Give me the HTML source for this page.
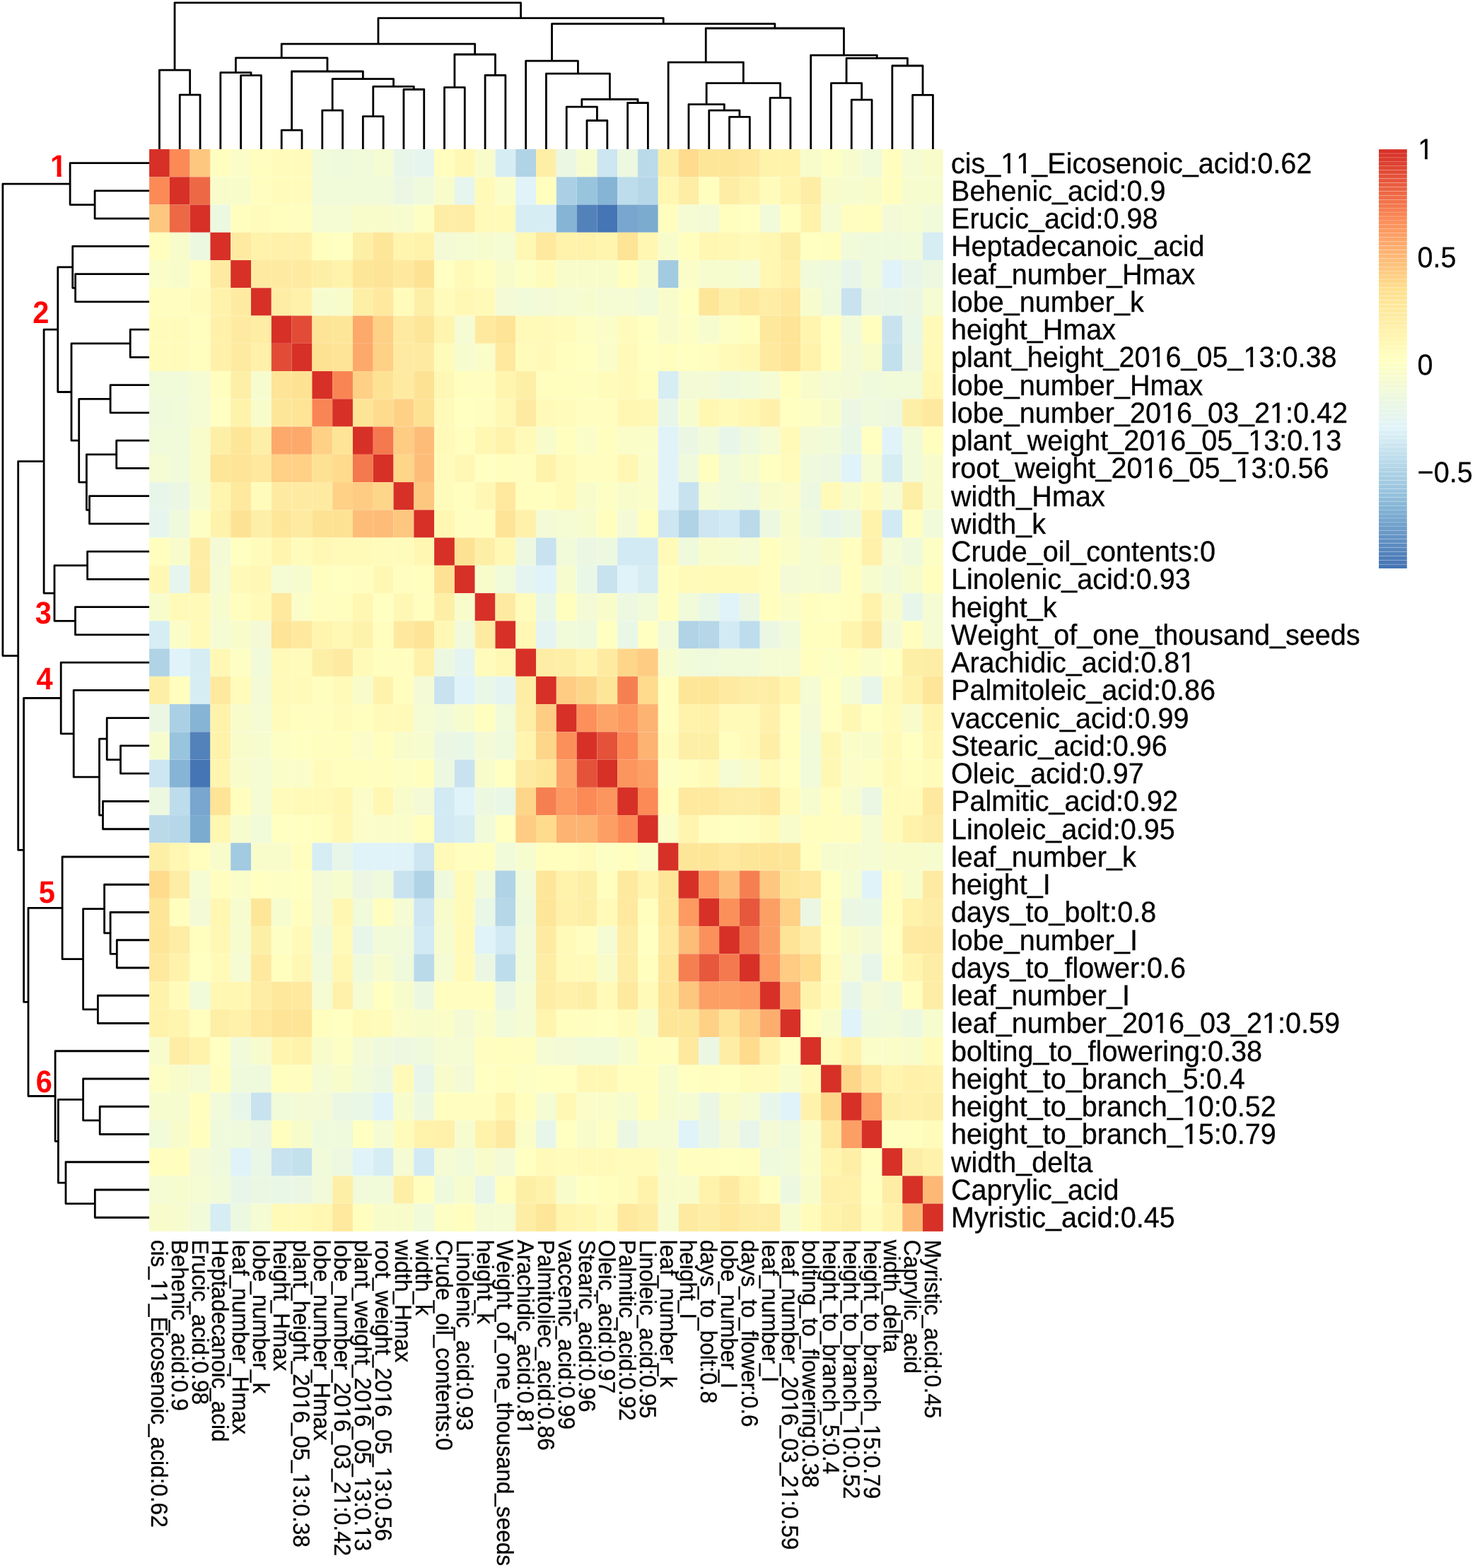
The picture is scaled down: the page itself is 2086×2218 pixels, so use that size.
<!DOCTYPE html>
<html lang="en"><head><meta charset="utf-8"><title>Clustered correlation heatmap</title>
<style>html,body{margin:0;padding:0;background:#fff}svg{display:block}text{font-family:"Liberation Sans",Arial,Helvetica,sans-serif;fill:#000;stroke:#000;stroke-width:0.3px;font-kerning:none;text-rendering:geometricPrecision}.rl{font-size:39.55px}.cl{font-size:31.55px}.lg{font-size:39.55px}.k text{font-size:41.6px;font-weight:bold;fill:#ff0000;stroke:none}.d{fill:none;stroke:#000;stroke-width:2.8;stroke-linejoin:round;stroke-linecap:butt}</style></head><body>
<svg width="2086" height="2218" viewBox="0 0 2086 2218">
<rect width="2086" height="2218" fill="#fff"/>
<g>
<rect x="211.07" y="211.07" width="28.79" height="39.25" fill="#d73027"/>
<rect x="239.86" y="211.07" width="28.79" height="39.25" fill="#fb8a57"/>
<rect x="268.65" y="211.07" width="28.79" height="39.25" fill="#fdc77f"/>
<rect x="297.43" y="211.07" width="28.79" height="39.25" fill="#fffebe"/>
<rect x="326.22" y="211.07" width="28.79" height="39.25" fill="#fafdc8"/>
<rect x="355.01" y="211.07" width="28.79" height="39.25" fill="#fffebe"/>
<rect x="383.80" y="211.07" width="28.79" height="39.25" fill="#fffcbb"/>
<rect x="412.59" y="211.07" width="28.79" height="39.25" fill="#fffcbb"/>
<rect x="441.37" y="211.07" width="28.79" height="39.25" fill="#f1fad9"/>
<rect x="470.16" y="211.07" width="28.79" height="39.25" fill="#eff9dc"/>
<rect x="498.95" y="211.07" width="28.79" height="39.25" fill="#f1fad9"/>
<rect x="527.74" y="211.07" width="28.79" height="39.25" fill="#f5fbd2"/>
<rect x="556.53" y="211.07" width="28.79" height="39.25" fill="#e8f6ea"/>
<rect x="585.31" y="211.07" width="28.79" height="39.25" fill="#e6f5ee"/>
<rect x="614.10" y="211.07" width="28.79" height="39.25" fill="#fffebe"/>
<rect x="642.89" y="211.07" width="28.79" height="39.25" fill="#fff8b5"/>
<rect x="671.68" y="211.07" width="28.79" height="39.25" fill="#f8fccb"/>
<rect x="700.47" y="211.07" width="28.79" height="39.25" fill="#d6edf4"/>
<rect x="729.25" y="211.07" width="28.79" height="39.25" fill="#b0d3e6"/>
<rect x="758.04" y="211.07" width="28.79" height="39.25" fill="#feefa7"/>
<rect x="786.83" y="211.07" width="28.79" height="39.25" fill="#ebf7e3"/>
<rect x="815.62" y="211.07" width="28.79" height="39.25" fill="#f7fccf"/>
<rect x="844.40" y="211.07" width="28.79" height="39.25" fill="#cde6f1"/>
<rect x="873.19" y="211.07" width="28.79" height="39.25" fill="#edf8e0"/>
<rect x="901.98" y="211.07" width="28.79" height="39.25" fill="#badaea"/>
<rect x="930.77" y="211.07" width="28.79" height="39.25" fill="#feefa7"/>
<rect x="959.56" y="211.07" width="28.79" height="39.25" fill="#fedb8d"/>
<rect x="988.34" y="211.07" width="28.79" height="39.25" fill="#fee699"/>
<rect x="1017.13" y="211.07" width="28.79" height="39.25" fill="#fee699"/>
<rect x="1045.92" y="211.07" width="28.79" height="39.25" fill="#fee99e"/>
<rect x="1074.71" y="211.07" width="28.79" height="39.25" fill="#fff3ac"/>
<rect x="1103.50" y="211.07" width="28.79" height="39.25" fill="#fff3ac"/>
<rect x="1132.28" y="211.07" width="28.79" height="39.25" fill="#f8fccb"/>
<rect x="1161.07" y="211.07" width="28.79" height="39.25" fill="#fcfec4"/>
<rect x="1189.86" y="211.07" width="28.79" height="39.25" fill="#f7fccf"/>
<rect x="1218.65" y="211.07" width="28.79" height="39.25" fill="#f1fad9"/>
<rect x="1247.44" y="211.07" width="28.79" height="39.25" fill="#fffebe"/>
<rect x="1276.22" y="211.07" width="28.79" height="39.25" fill="#f5fbd2"/>
<rect x="1305.01" y="211.07" width="28.79" height="39.25" fill="#f8fccb"/>
<rect x="211.07" y="250.32" width="28.79" height="39.25" fill="#fb8a57"/>
<rect x="239.86" y="250.32" width="28.79" height="39.25" fill="#d73027"/>
<rect x="268.65" y="250.32" width="28.79" height="39.25" fill="#ed6845"/>
<rect x="297.43" y="250.32" width="28.79" height="39.25" fill="#f8fccb"/>
<rect x="326.22" y="250.32" width="28.79" height="39.25" fill="#f8fccb"/>
<rect x="355.01" y="250.32" width="28.79" height="39.25" fill="#fffebe"/>
<rect x="383.80" y="250.32" width="28.79" height="39.25" fill="#fffcbb"/>
<rect x="412.59" y="250.32" width="28.79" height="39.25" fill="#fffcbb"/>
<rect x="441.37" y="250.32" width="28.79" height="39.25" fill="#f1fad9"/>
<rect x="470.16" y="250.32" width="28.79" height="39.25" fill="#f1fad9"/>
<rect x="498.95" y="250.32" width="28.79" height="39.25" fill="#f1fad9"/>
<rect x="527.74" y="250.32" width="28.79" height="39.25" fill="#f1fad9"/>
<rect x="556.53" y="250.32" width="28.79" height="39.25" fill="#ebf7e3"/>
<rect x="585.31" y="250.32" width="28.79" height="39.25" fill="#eff9dc"/>
<rect x="614.10" y="250.32" width="28.79" height="39.25" fill="#f8fccb"/>
<rect x="642.89" y="250.32" width="28.79" height="39.25" fill="#e6f5ee"/>
<rect x="671.68" y="250.32" width="28.79" height="39.25" fill="#fffab8"/>
<rect x="700.47" y="250.32" width="28.79" height="39.25" fill="#fafdc8"/>
<rect x="729.25" y="250.32" width="28.79" height="39.25" fill="#e0f3f8"/>
<rect x="758.04" y="250.32" width="28.79" height="39.25" fill="#fffebe"/>
<rect x="786.83" y="250.32" width="28.79" height="39.25" fill="#abd0e5"/>
<rect x="815.62" y="250.32" width="28.79" height="39.25" fill="#98c4de"/>
<rect x="844.40" y="250.32" width="28.79" height="39.25" fill="#85b4d5"/>
<rect x="873.19" y="250.32" width="28.79" height="39.25" fill="#beddec"/>
<rect x="901.98" y="250.32" width="28.79" height="39.25" fill="#b5d7e8"/>
<rect x="930.77" y="250.32" width="28.79" height="39.25" fill="#fff7b2"/>
<rect x="959.56" y="250.32" width="28.79" height="39.25" fill="#feeda4"/>
<rect x="988.34" y="250.32" width="28.79" height="39.25" fill="#fffebe"/>
<rect x="1017.13" y="250.32" width="28.79" height="39.25" fill="#feeda4"/>
<rect x="1045.92" y="250.32" width="28.79" height="39.25" fill="#fff3ac"/>
<rect x="1074.71" y="250.32" width="28.79" height="39.25" fill="#fffcbb"/>
<rect x="1103.50" y="250.32" width="28.79" height="39.25" fill="#fff5af"/>
<rect x="1132.28" y="250.32" width="28.79" height="39.25" fill="#feeda4"/>
<rect x="1161.07" y="250.32" width="28.79" height="39.25" fill="#f8fccb"/>
<rect x="1189.86" y="250.32" width="28.79" height="39.25" fill="#f7fccf"/>
<rect x="1218.65" y="250.32" width="28.79" height="39.25" fill="#f8fccb"/>
<rect x="1247.44" y="250.32" width="28.79" height="39.25" fill="#fffebe"/>
<rect x="1276.22" y="250.32" width="28.79" height="39.25" fill="#f7fccf"/>
<rect x="1305.01" y="250.32" width="28.79" height="39.25" fill="#f7fccf"/>
<rect x="211.07" y="289.57" width="28.79" height="39.25" fill="#fdc77f"/>
<rect x="239.86" y="289.57" width="28.79" height="39.25" fill="#ed6845"/>
<rect x="268.65" y="289.57" width="28.79" height="39.25" fill="#d73027"/>
<rect x="297.43" y="289.57" width="28.79" height="39.25" fill="#edf8e0"/>
<rect x="326.22" y="289.57" width="28.79" height="39.25" fill="#fffebe"/>
<rect x="355.01" y="289.57" width="28.79" height="39.25" fill="#fffcbb"/>
<rect x="383.80" y="289.57" width="28.79" height="39.25" fill="#fffebe"/>
<rect x="412.59" y="289.57" width="28.79" height="39.25" fill="#fffebe"/>
<rect x="441.37" y="289.57" width="28.79" height="39.25" fill="#f5fbd2"/>
<rect x="470.16" y="289.57" width="28.79" height="39.25" fill="#f5fbd2"/>
<rect x="498.95" y="289.57" width="28.79" height="39.25" fill="#f8fccb"/>
<rect x="527.74" y="289.57" width="28.79" height="39.25" fill="#f8fccb"/>
<rect x="556.53" y="289.57" width="28.79" height="39.25" fill="#f7fccf"/>
<rect x="585.31" y="289.57" width="28.79" height="39.25" fill="#fcfec4"/>
<rect x="614.10" y="289.57" width="28.79" height="39.25" fill="#feeda4"/>
<rect x="642.89" y="289.57" width="28.79" height="39.25" fill="#feeda4"/>
<rect x="671.68" y="289.57" width="28.79" height="39.25" fill="#fffab8"/>
<rect x="700.47" y="289.57" width="28.79" height="39.25" fill="#fffab8"/>
<rect x="729.25" y="289.57" width="28.79" height="39.25" fill="#d6edf4"/>
<rect x="758.04" y="289.57" width="28.79" height="39.25" fill="#d6edf4"/>
<rect x="786.83" y="289.57" width="28.79" height="39.25" fill="#85b4d5"/>
<rect x="815.62" y="289.57" width="28.79" height="39.25" fill="#5382bb"/>
<rect x="844.40" y="289.57" width="28.79" height="39.25" fill="#4575b4"/>
<rect x="873.19" y="289.57" width="28.79" height="39.25" fill="#78a6ce"/>
<rect x="901.98" y="289.57" width="28.79" height="39.25" fill="#7cabd0"/>
<rect x="930.77" y="289.57" width="28.79" height="39.25" fill="#fffebe"/>
<rect x="959.56" y="289.57" width="28.79" height="39.25" fill="#f5fbd2"/>
<rect x="988.34" y="289.57" width="28.79" height="39.25" fill="#f3fad5"/>
<rect x="1017.13" y="289.57" width="28.79" height="39.25" fill="#fffebe"/>
<rect x="1045.92" y="289.57" width="28.79" height="39.25" fill="#feffc1"/>
<rect x="1074.71" y="289.57" width="28.79" height="39.25" fill="#f1fad9"/>
<rect x="1103.50" y="289.57" width="28.79" height="39.25" fill="#fffebe"/>
<rect x="1132.28" y="289.57" width="28.79" height="39.25" fill="#fff3ac"/>
<rect x="1161.07" y="289.57" width="28.79" height="39.25" fill="#f5fbd2"/>
<rect x="1189.86" y="289.57" width="28.79" height="39.25" fill="#fffebe"/>
<rect x="1218.65" y="289.57" width="28.79" height="39.25" fill="#fffebe"/>
<rect x="1247.44" y="289.57" width="28.79" height="39.25" fill="#f3fad5"/>
<rect x="1276.22" y="289.57" width="28.79" height="39.25" fill="#f5fbd2"/>
<rect x="1305.01" y="289.57" width="28.79" height="39.25" fill="#f1fad9"/>
<rect x="211.07" y="328.82" width="28.79" height="39.25" fill="#fffebe"/>
<rect x="239.86" y="328.82" width="28.79" height="39.25" fill="#f8fccb"/>
<rect x="268.65" y="328.82" width="28.79" height="39.25" fill="#edf8e0"/>
<rect x="297.43" y="328.82" width="28.79" height="39.25" fill="#d73027"/>
<rect x="326.22" y="328.82" width="28.79" height="39.25" fill="#feeba1"/>
<rect x="355.01" y="328.82" width="28.79" height="39.25" fill="#fff3ac"/>
<rect x="383.80" y="328.82" width="28.79" height="39.25" fill="#fff1aa"/>
<rect x="412.59" y="328.82" width="28.79" height="39.25" fill="#fff1aa"/>
<rect x="441.37" y="328.82" width="28.79" height="39.25" fill="#fffebe"/>
<rect x="470.16" y="328.82" width="28.79" height="39.25" fill="#feffc1"/>
<rect x="498.95" y="328.82" width="28.79" height="39.25" fill="#feefa7"/>
<rect x="527.74" y="328.82" width="28.79" height="39.25" fill="#fee699"/>
<rect x="556.53" y="328.82" width="28.79" height="39.25" fill="#fff5af"/>
<rect x="585.31" y="328.82" width="28.79" height="39.25" fill="#fff3ac"/>
<rect x="614.10" y="328.82" width="28.79" height="39.25" fill="#f3fad5"/>
<rect x="642.89" y="328.82" width="28.79" height="39.25" fill="#f5fbd2"/>
<rect x="671.68" y="328.82" width="28.79" height="39.25" fill="#f7fccf"/>
<rect x="700.47" y="328.82" width="28.79" height="39.25" fill="#f5fbd2"/>
<rect x="729.25" y="328.82" width="28.79" height="39.25" fill="#fff8b5"/>
<rect x="758.04" y="328.82" width="28.79" height="39.25" fill="#fee99e"/>
<rect x="786.83" y="328.82" width="28.79" height="39.25" fill="#fff3ac"/>
<rect x="815.62" y="328.82" width="28.79" height="39.25" fill="#fff3ac"/>
<rect x="844.40" y="328.82" width="28.79" height="39.25" fill="#fff5af"/>
<rect x="873.19" y="328.82" width="28.79" height="39.25" fill="#fee496"/>
<rect x="901.98" y="328.82" width="28.79" height="39.25" fill="#fff7b2"/>
<rect x="930.77" y="328.82" width="28.79" height="39.25" fill="#f8fccb"/>
<rect x="959.56" y="328.82" width="28.79" height="39.25" fill="#fffebe"/>
<rect x="988.34" y="328.82" width="28.79" height="39.25" fill="#fff7b2"/>
<rect x="1017.13" y="328.82" width="28.79" height="39.25" fill="#fff8b5"/>
<rect x="1045.92" y="328.82" width="28.79" height="39.25" fill="#fffab8"/>
<rect x="1074.71" y="328.82" width="28.79" height="39.25" fill="#fff7b2"/>
<rect x="1103.50" y="328.82" width="28.79" height="39.25" fill="#feefa7"/>
<rect x="1132.28" y="328.82" width="28.79" height="39.25" fill="#feffc1"/>
<rect x="1161.07" y="328.82" width="28.79" height="39.25" fill="#fffebe"/>
<rect x="1189.86" y="328.82" width="28.79" height="39.25" fill="#f1fad9"/>
<rect x="1218.65" y="328.82" width="28.79" height="39.25" fill="#eff9dc"/>
<rect x="1247.44" y="328.82" width="28.79" height="39.25" fill="#eff9dc"/>
<rect x="1276.22" y="328.82" width="28.79" height="39.25" fill="#f1fad9"/>
<rect x="1305.01" y="328.82" width="28.79" height="39.25" fill="#d6edf4"/>
<rect x="211.07" y="368.08" width="28.79" height="39.25" fill="#fafdc8"/>
<rect x="239.86" y="368.08" width="28.79" height="39.25" fill="#f8fccb"/>
<rect x="268.65" y="368.08" width="28.79" height="39.25" fill="#fffebe"/>
<rect x="297.43" y="368.08" width="28.79" height="39.25" fill="#feeba1"/>
<rect x="326.22" y="368.08" width="28.79" height="39.25" fill="#d73027"/>
<rect x="355.01" y="368.08" width="28.79" height="39.25" fill="#feeba1"/>
<rect x="383.80" y="368.08" width="28.79" height="39.25" fill="#feeba1"/>
<rect x="412.59" y="368.08" width="28.79" height="39.25" fill="#feeba1"/>
<rect x="441.37" y="368.08" width="28.79" height="39.25" fill="#feefa7"/>
<rect x="470.16" y="368.08" width="28.79" height="39.25" fill="#fff3ac"/>
<rect x="498.95" y="368.08" width="28.79" height="39.25" fill="#fee699"/>
<rect x="527.74" y="368.08" width="28.79" height="39.25" fill="#fee496"/>
<rect x="556.53" y="368.08" width="28.79" height="39.25" fill="#fee99e"/>
<rect x="585.31" y="368.08" width="28.79" height="39.25" fill="#fee293"/>
<rect x="614.10" y="368.08" width="28.79" height="39.25" fill="#feffc1"/>
<rect x="642.89" y="368.08" width="28.79" height="39.25" fill="#fffab8"/>
<rect x="671.68" y="368.08" width="28.79" height="39.25" fill="#fffebe"/>
<rect x="700.47" y="368.08" width="28.79" height="39.25" fill="#f8fccb"/>
<rect x="729.25" y="368.08" width="28.79" height="39.25" fill="#fcfec4"/>
<rect x="758.04" y="368.08" width="28.79" height="39.25" fill="#fffcbb"/>
<rect x="786.83" y="368.08" width="28.79" height="39.25" fill="#f8fccb"/>
<rect x="815.62" y="368.08" width="28.79" height="39.25" fill="#f8fccb"/>
<rect x="844.40" y="368.08" width="28.79" height="39.25" fill="#f8fccb"/>
<rect x="873.19" y="368.08" width="28.79" height="39.25" fill="#fffebe"/>
<rect x="901.98" y="368.08" width="28.79" height="39.25" fill="#f7fccf"/>
<rect x="930.77" y="368.08" width="28.79" height="39.25" fill="#a2cae1"/>
<rect x="959.56" y="368.08" width="28.79" height="39.25" fill="#fafdc8"/>
<rect x="988.34" y="368.08" width="28.79" height="39.25" fill="#f7fccf"/>
<rect x="1017.13" y="368.08" width="28.79" height="39.25" fill="#f7fccf"/>
<rect x="1045.92" y="368.08" width="28.79" height="39.25" fill="#f5fbd2"/>
<rect x="1074.71" y="368.08" width="28.79" height="39.25" fill="#fff7b2"/>
<rect x="1103.50" y="368.08" width="28.79" height="39.25" fill="#fff1aa"/>
<rect x="1132.28" y="368.08" width="28.79" height="39.25" fill="#f1fad9"/>
<rect x="1161.07" y="368.08" width="28.79" height="39.25" fill="#eff9dc"/>
<rect x="1189.86" y="368.08" width="28.79" height="39.25" fill="#e8f6ea"/>
<rect x="1218.65" y="368.08" width="28.79" height="39.25" fill="#eff9dc"/>
<rect x="1247.44" y="368.08" width="28.79" height="39.25" fill="#e0f3f8"/>
<rect x="1276.22" y="368.08" width="28.79" height="39.25" fill="#e8f6ea"/>
<rect x="1305.01" y="368.08" width="28.79" height="39.25" fill="#edf8e0"/>
<rect x="211.07" y="407.33" width="28.79" height="39.25" fill="#fffebe"/>
<rect x="239.86" y="407.33" width="28.79" height="39.25" fill="#fffebe"/>
<rect x="268.65" y="407.33" width="28.79" height="39.25" fill="#fffcbb"/>
<rect x="297.43" y="407.33" width="28.79" height="39.25" fill="#fff3ac"/>
<rect x="326.22" y="407.33" width="28.79" height="39.25" fill="#feeba1"/>
<rect x="355.01" y="407.33" width="28.79" height="39.25" fill="#d73027"/>
<rect x="383.80" y="407.33" width="28.79" height="39.25" fill="#feeda4"/>
<rect x="412.59" y="407.33" width="28.79" height="39.25" fill="#fff1aa"/>
<rect x="441.37" y="407.33" width="28.79" height="39.25" fill="#f7fccf"/>
<rect x="470.16" y="407.33" width="28.79" height="39.25" fill="#f8fccb"/>
<rect x="498.95" y="407.33" width="28.79" height="39.25" fill="#feefa7"/>
<rect x="527.74" y="407.33" width="28.79" height="39.25" fill="#fee99e"/>
<rect x="556.53" y="407.33" width="28.79" height="39.25" fill="#fffcbb"/>
<rect x="585.31" y="407.33" width="28.79" height="39.25" fill="#feefa7"/>
<rect x="614.10" y="407.33" width="28.79" height="39.25" fill="#fffcbb"/>
<rect x="642.89" y="407.33" width="28.79" height="39.25" fill="#fff8b5"/>
<rect x="671.68" y="407.33" width="28.79" height="39.25" fill="#fffab8"/>
<rect x="700.47" y="407.33" width="28.79" height="39.25" fill="#f3fad5"/>
<rect x="729.25" y="407.33" width="28.79" height="39.25" fill="#f1fad9"/>
<rect x="758.04" y="407.33" width="28.79" height="39.25" fill="#f3fad5"/>
<rect x="786.83" y="407.33" width="28.79" height="39.25" fill="#f5fbd2"/>
<rect x="815.62" y="407.33" width="28.79" height="39.25" fill="#f7fccf"/>
<rect x="844.40" y="407.33" width="28.79" height="39.25" fill="#f5fbd2"/>
<rect x="873.19" y="407.33" width="28.79" height="39.25" fill="#f5fbd2"/>
<rect x="901.98" y="407.33" width="28.79" height="39.25" fill="#f1fad9"/>
<rect x="930.77" y="407.33" width="28.79" height="39.25" fill="#f8fccb"/>
<rect x="959.56" y="407.33" width="28.79" height="39.25" fill="#feffc1"/>
<rect x="988.34" y="407.33" width="28.79" height="39.25" fill="#fee699"/>
<rect x="1017.13" y="407.33" width="28.79" height="39.25" fill="#feefa7"/>
<rect x="1045.92" y="407.33" width="28.79" height="39.25" fill="#fee99e"/>
<rect x="1074.71" y="407.33" width="28.79" height="39.25" fill="#feeda4"/>
<rect x="1103.50" y="407.33" width="28.79" height="39.25" fill="#fee99e"/>
<rect x="1132.28" y="407.33" width="28.79" height="39.25" fill="#f7fccf"/>
<rect x="1161.07" y="407.33" width="28.79" height="39.25" fill="#eff9dc"/>
<rect x="1189.86" y="407.33" width="28.79" height="39.25" fill="#c8e3ef"/>
<rect x="1218.65" y="407.33" width="28.79" height="39.25" fill="#ebf7e3"/>
<rect x="1247.44" y="407.33" width="28.79" height="39.25" fill="#e9f7e7"/>
<rect x="1276.22" y="407.33" width="28.79" height="39.25" fill="#ebf7e3"/>
<rect x="1305.01" y="407.33" width="28.79" height="39.25" fill="#f5fbd2"/>
<rect x="211.07" y="446.58" width="28.79" height="39.25" fill="#fffcbb"/>
<rect x="239.86" y="446.58" width="28.79" height="39.25" fill="#fffcbb"/>
<rect x="268.65" y="446.58" width="28.79" height="39.25" fill="#fffebe"/>
<rect x="297.43" y="446.58" width="28.79" height="39.25" fill="#fff1aa"/>
<rect x="326.22" y="446.58" width="28.79" height="39.25" fill="#feeba1"/>
<rect x="355.01" y="446.58" width="28.79" height="39.25" fill="#feeda4"/>
<rect x="383.80" y="446.58" width="28.79" height="39.25" fill="#d73027"/>
<rect x="412.59" y="446.58" width="28.79" height="39.25" fill="#e24c36"/>
<rect x="441.37" y="446.58" width="28.79" height="39.25" fill="#fee496"/>
<rect x="470.16" y="446.58" width="28.79" height="39.25" fill="#fee699"/>
<rect x="498.95" y="446.58" width="28.79" height="39.25" fill="#fda96b"/>
<rect x="527.74" y="446.58" width="28.79" height="39.25" fill="#fed186"/>
<rect x="556.53" y="446.58" width="28.79" height="39.25" fill="#feeba1"/>
<rect x="585.31" y="446.58" width="28.79" height="39.25" fill="#fee699"/>
<rect x="614.10" y="446.58" width="28.79" height="39.25" fill="#fff5af"/>
<rect x="642.89" y="446.58" width="28.79" height="39.25" fill="#f5fbd2"/>
<rect x="671.68" y="446.58" width="28.79" height="39.25" fill="#fee99e"/>
<rect x="700.47" y="446.58" width="28.79" height="39.25" fill="#fee496"/>
<rect x="729.25" y="446.58" width="28.79" height="39.25" fill="#fffab8"/>
<rect x="758.04" y="446.58" width="28.79" height="39.25" fill="#fffab8"/>
<rect x="786.83" y="446.58" width="28.79" height="39.25" fill="#fffcbb"/>
<rect x="815.62" y="446.58" width="28.79" height="39.25" fill="#fcfec4"/>
<rect x="844.40" y="446.58" width="28.79" height="39.25" fill="#fafdc8"/>
<rect x="873.19" y="446.58" width="28.79" height="39.25" fill="#fffcbb"/>
<rect x="901.98" y="446.58" width="28.79" height="39.25" fill="#feffc1"/>
<rect x="930.77" y="446.58" width="28.79" height="39.25" fill="#f8fccb"/>
<rect x="959.56" y="446.58" width="28.79" height="39.25" fill="#fcfec4"/>
<rect x="988.34" y="446.58" width="28.79" height="39.25" fill="#f7fccf"/>
<rect x="1017.13" y="446.58" width="28.79" height="39.25" fill="#fcfec4"/>
<rect x="1045.92" y="446.58" width="28.79" height="39.25" fill="#fffebe"/>
<rect x="1074.71" y="446.58" width="28.79" height="39.25" fill="#fee89b"/>
<rect x="1103.50" y="446.58" width="28.79" height="39.25" fill="#fee496"/>
<rect x="1132.28" y="446.58" width="28.79" height="39.25" fill="#fff5af"/>
<rect x="1161.07" y="446.58" width="28.79" height="39.25" fill="#fffebe"/>
<rect x="1189.86" y="446.58" width="28.79" height="39.25" fill="#f1fad9"/>
<rect x="1218.65" y="446.58" width="28.79" height="39.25" fill="#fffebe"/>
<rect x="1247.44" y="446.58" width="28.79" height="39.25" fill="#c8e3ef"/>
<rect x="1276.22" y="446.58" width="28.79" height="39.25" fill="#e9f7e7"/>
<rect x="1305.01" y="446.58" width="28.79" height="39.25" fill="#fffab8"/>
<rect x="211.07" y="485.83" width="28.79" height="39.25" fill="#fffcbb"/>
<rect x="239.86" y="485.83" width="28.79" height="39.25" fill="#fffcbb"/>
<rect x="268.65" y="485.83" width="28.79" height="39.25" fill="#fffebe"/>
<rect x="297.43" y="485.83" width="28.79" height="39.25" fill="#fff1aa"/>
<rect x="326.22" y="485.83" width="28.79" height="39.25" fill="#feeba1"/>
<rect x="355.01" y="485.83" width="28.79" height="39.25" fill="#fff1aa"/>
<rect x="383.80" y="485.83" width="28.79" height="39.25" fill="#e24c36"/>
<rect x="412.59" y="485.83" width="28.79" height="39.25" fill="#d73027"/>
<rect x="441.37" y="485.83" width="28.79" height="39.25" fill="#fee293"/>
<rect x="470.16" y="485.83" width="28.79" height="39.25" fill="#fee496"/>
<rect x="498.95" y="485.83" width="28.79" height="39.25" fill="#fda96b"/>
<rect x="527.74" y="485.83" width="28.79" height="39.25" fill="#fed186"/>
<rect x="556.53" y="485.83" width="28.79" height="39.25" fill="#feeba1"/>
<rect x="585.31" y="485.83" width="28.79" height="39.25" fill="#feeba1"/>
<rect x="614.10" y="485.83" width="28.79" height="39.25" fill="#fffcbb"/>
<rect x="642.89" y="485.83" width="28.79" height="39.25" fill="#f7fccf"/>
<rect x="671.68" y="485.83" width="28.79" height="39.25" fill="#fafdc8"/>
<rect x="700.47" y="485.83" width="28.79" height="39.25" fill="#fee99e"/>
<rect x="729.25" y="485.83" width="28.79" height="39.25" fill="#fffcbb"/>
<rect x="758.04" y="485.83" width="28.79" height="39.25" fill="#fffab8"/>
<rect x="786.83" y="485.83" width="28.79" height="39.25" fill="#fffebe"/>
<rect x="815.62" y="485.83" width="28.79" height="39.25" fill="#feffc1"/>
<rect x="844.40" y="485.83" width="28.79" height="39.25" fill="#fafdc8"/>
<rect x="873.19" y="485.83" width="28.79" height="39.25" fill="#fffab8"/>
<rect x="901.98" y="485.83" width="28.79" height="39.25" fill="#feffc1"/>
<rect x="930.77" y="485.83" width="28.79" height="39.25" fill="#fffebe"/>
<rect x="959.56" y="485.83" width="28.79" height="39.25" fill="#feffc1"/>
<rect x="988.34" y="485.83" width="28.79" height="39.25" fill="#fffebe"/>
<rect x="1017.13" y="485.83" width="28.79" height="39.25" fill="#fffab8"/>
<rect x="1045.92" y="485.83" width="28.79" height="39.25" fill="#fff8b5"/>
<rect x="1074.71" y="485.83" width="28.79" height="39.25" fill="#fee99e"/>
<rect x="1103.50" y="485.83" width="28.79" height="39.25" fill="#fee496"/>
<rect x="1132.28" y="485.83" width="28.79" height="39.25" fill="#fff3ac"/>
<rect x="1161.07" y="485.83" width="28.79" height="39.25" fill="#fffebe"/>
<rect x="1189.86" y="485.83" width="28.79" height="39.25" fill="#f3fad5"/>
<rect x="1218.65" y="485.83" width="28.79" height="39.25" fill="#f8fccb"/>
<rect x="1247.44" y="485.83" width="28.79" height="39.25" fill="#c3e0ed"/>
<rect x="1276.22" y="485.83" width="28.79" height="39.25" fill="#ebf7e3"/>
<rect x="1305.01" y="485.83" width="28.79" height="39.25" fill="#fffab8"/>
<rect x="211.07" y="525.08" width="28.79" height="39.25" fill="#f1fad9"/>
<rect x="239.86" y="525.08" width="28.79" height="39.25" fill="#f1fad9"/>
<rect x="268.65" y="525.08" width="28.79" height="39.25" fill="#f5fbd2"/>
<rect x="297.43" y="525.08" width="28.79" height="39.25" fill="#fffebe"/>
<rect x="326.22" y="525.08" width="28.79" height="39.25" fill="#feefa7"/>
<rect x="355.01" y="525.08" width="28.79" height="39.25" fill="#f7fccf"/>
<rect x="383.80" y="525.08" width="28.79" height="39.25" fill="#fee496"/>
<rect x="412.59" y="525.08" width="28.79" height="39.25" fill="#fee293"/>
<rect x="441.37" y="525.08" width="28.79" height="39.25" fill="#d73027"/>
<rect x="470.16" y="525.08" width="28.79" height="39.25" fill="#f98554"/>
<rect x="498.95" y="525.08" width="28.79" height="39.25" fill="#fed186"/>
<rect x="527.74" y="525.08" width="28.79" height="39.25" fill="#fee293"/>
<rect x="556.53" y="525.08" width="28.79" height="39.25" fill="#feeba1"/>
<rect x="585.31" y="525.08" width="28.79" height="39.25" fill="#fee293"/>
<rect x="614.10" y="525.08" width="28.79" height="39.25" fill="#fff8b5"/>
<rect x="642.89" y="525.08" width="28.79" height="39.25" fill="#fffebe"/>
<rect x="671.68" y="525.08" width="28.79" height="39.25" fill="#fffebe"/>
<rect x="700.47" y="525.08" width="28.79" height="39.25" fill="#fff5af"/>
<rect x="729.25" y="525.08" width="28.79" height="39.25" fill="#feefa7"/>
<rect x="758.04" y="525.08" width="28.79" height="39.25" fill="#fffebe"/>
<rect x="786.83" y="525.08" width="28.79" height="39.25" fill="#fffebe"/>
<rect x="815.62" y="525.08" width="28.79" height="39.25" fill="#fffebe"/>
<rect x="844.40" y="525.08" width="28.79" height="39.25" fill="#fffcbb"/>
<rect x="873.19" y="525.08" width="28.79" height="39.25" fill="#fffab8"/>
<rect x="901.98" y="525.08" width="28.79" height="39.25" fill="#fffebe"/>
<rect x="930.77" y="525.08" width="28.79" height="39.25" fill="#d6edf4"/>
<rect x="959.56" y="525.08" width="28.79" height="39.25" fill="#f3fad5"/>
<rect x="988.34" y="525.08" width="28.79" height="39.25" fill="#f3fad5"/>
<rect x="1017.13" y="525.08" width="28.79" height="39.25" fill="#eff9dc"/>
<rect x="1045.92" y="525.08" width="28.79" height="39.25" fill="#f1fad9"/>
<rect x="1074.71" y="525.08" width="28.79" height="39.25" fill="#f5fbd2"/>
<rect x="1103.50" y="525.08" width="28.79" height="39.25" fill="#fffebe"/>
<rect x="1132.28" y="525.08" width="28.79" height="39.25" fill="#f8fccb"/>
<rect x="1161.07" y="525.08" width="28.79" height="39.25" fill="#f5fbd2"/>
<rect x="1189.86" y="525.08" width="28.79" height="39.25" fill="#f3fad5"/>
<rect x="1218.65" y="525.08" width="28.79" height="39.25" fill="#eff9dc"/>
<rect x="1247.44" y="525.08" width="28.79" height="39.25" fill="#f1fad9"/>
<rect x="1276.22" y="525.08" width="28.79" height="39.25" fill="#f1fad9"/>
<rect x="1305.01" y="525.08" width="28.79" height="39.25" fill="#fff7b2"/>
<rect x="211.07" y="564.33" width="28.79" height="39.25" fill="#eff9dc"/>
<rect x="239.86" y="564.33" width="28.79" height="39.25" fill="#f1fad9"/>
<rect x="268.65" y="564.33" width="28.79" height="39.25" fill="#f5fbd2"/>
<rect x="297.43" y="564.33" width="28.79" height="39.25" fill="#feffc1"/>
<rect x="326.22" y="564.33" width="28.79" height="39.25" fill="#fff3ac"/>
<rect x="355.01" y="564.33" width="28.79" height="39.25" fill="#f8fccb"/>
<rect x="383.80" y="564.33" width="28.79" height="39.25" fill="#fee699"/>
<rect x="412.59" y="564.33" width="28.79" height="39.25" fill="#fee496"/>
<rect x="441.37" y="564.33" width="28.79" height="39.25" fill="#f98554"/>
<rect x="470.16" y="564.33" width="28.79" height="39.25" fill="#d73027"/>
<rect x="498.95" y="564.33" width="28.79" height="39.25" fill="#fee496"/>
<rect x="527.74" y="564.33" width="28.79" height="39.25" fill="#fedb8d"/>
<rect x="556.53" y="564.33" width="28.79" height="39.25" fill="#fed186"/>
<rect x="585.31" y="564.33" width="28.79" height="39.25" fill="#fee293"/>
<rect x="614.10" y="564.33" width="28.79" height="39.25" fill="#fffab8"/>
<rect x="642.89" y="564.33" width="28.79" height="39.25" fill="#feffc1"/>
<rect x="671.68" y="564.33" width="28.79" height="39.25" fill="#fffebe"/>
<rect x="700.47" y="564.33" width="28.79" height="39.25" fill="#fff8b5"/>
<rect x="729.25" y="564.33" width="28.79" height="39.25" fill="#feeba1"/>
<rect x="758.04" y="564.33" width="28.79" height="39.25" fill="#fffab8"/>
<rect x="786.83" y="564.33" width="28.79" height="39.25" fill="#fffcbb"/>
<rect x="815.62" y="564.33" width="28.79" height="39.25" fill="#fffebe"/>
<rect x="844.40" y="564.33" width="28.79" height="39.25" fill="#fffebe"/>
<rect x="873.19" y="564.33" width="28.79" height="39.25" fill="#fff7b2"/>
<rect x="901.98" y="564.33" width="28.79" height="39.25" fill="#fff8b5"/>
<rect x="930.77" y="564.33" width="28.79" height="39.25" fill="#e8f6ea"/>
<rect x="959.56" y="564.33" width="28.79" height="39.25" fill="#f7fccf"/>
<rect x="988.34" y="564.33" width="28.79" height="39.25" fill="#fff7b2"/>
<rect x="1017.13" y="564.33" width="28.79" height="39.25" fill="#fffab8"/>
<rect x="1045.92" y="564.33" width="28.79" height="39.25" fill="#fff7b2"/>
<rect x="1074.71" y="564.33" width="28.79" height="39.25" fill="#fff1aa"/>
<rect x="1103.50" y="564.33" width="28.79" height="39.25" fill="#feffc1"/>
<rect x="1132.28" y="564.33" width="28.79" height="39.25" fill="#fcfec4"/>
<rect x="1161.07" y="564.33" width="28.79" height="39.25" fill="#f8fccb"/>
<rect x="1189.86" y="564.33" width="28.79" height="39.25" fill="#ebf7e3"/>
<rect x="1218.65" y="564.33" width="28.79" height="39.25" fill="#eff9dc"/>
<rect x="1247.44" y="564.33" width="28.79" height="39.25" fill="#edf8e0"/>
<rect x="1276.22" y="564.33" width="28.79" height="39.25" fill="#feefa7"/>
<rect x="1305.01" y="564.33" width="28.79" height="39.25" fill="#fee99e"/>
<rect x="211.07" y="603.58" width="28.79" height="39.25" fill="#f1fad9"/>
<rect x="239.86" y="603.58" width="28.79" height="39.25" fill="#f1fad9"/>
<rect x="268.65" y="603.58" width="28.79" height="39.25" fill="#f8fccb"/>
<rect x="297.43" y="603.58" width="28.79" height="39.25" fill="#feefa7"/>
<rect x="326.22" y="603.58" width="28.79" height="39.25" fill="#fee699"/>
<rect x="355.01" y="603.58" width="28.79" height="39.25" fill="#feefa7"/>
<rect x="383.80" y="603.58" width="28.79" height="39.25" fill="#fda96b"/>
<rect x="412.59" y="603.58" width="28.79" height="39.25" fill="#fda96b"/>
<rect x="441.37" y="603.58" width="28.79" height="39.25" fill="#fed186"/>
<rect x="470.16" y="603.58" width="28.79" height="39.25" fill="#fee496"/>
<rect x="498.95" y="603.58" width="28.79" height="39.25" fill="#d73027"/>
<rect x="527.74" y="603.58" width="28.79" height="39.25" fill="#f4794e"/>
<rect x="556.53" y="603.58" width="28.79" height="39.25" fill="#fecc83"/>
<rect x="585.31" y="603.58" width="28.79" height="39.25" fill="#fdbd79"/>
<rect x="614.10" y="603.58" width="28.79" height="39.25" fill="#fffab8"/>
<rect x="642.89" y="603.58" width="28.79" height="39.25" fill="#fffebe"/>
<rect x="671.68" y="603.58" width="28.79" height="39.25" fill="#fff7b2"/>
<rect x="700.47" y="603.58" width="28.79" height="39.25" fill="#fff3ac"/>
<rect x="729.25" y="603.58" width="28.79" height="39.25" fill="#fffab8"/>
<rect x="758.04" y="603.58" width="28.79" height="39.25" fill="#f8fccb"/>
<rect x="786.83" y="603.58" width="28.79" height="39.25" fill="#fffebe"/>
<rect x="815.62" y="603.58" width="28.79" height="39.25" fill="#fafdc8"/>
<rect x="844.40" y="603.58" width="28.79" height="39.25" fill="#fffebe"/>
<rect x="873.19" y="603.58" width="28.79" height="39.25" fill="#fafdc8"/>
<rect x="901.98" y="603.58" width="28.79" height="39.25" fill="#fafdc8"/>
<rect x="930.77" y="603.58" width="28.79" height="39.25" fill="#e0f3f8"/>
<rect x="959.56" y="603.58" width="28.79" height="39.25" fill="#ebf7e3"/>
<rect x="988.34" y="603.58" width="28.79" height="39.25" fill="#f1fad9"/>
<rect x="1017.13" y="603.58" width="28.79" height="39.25" fill="#e8f6ea"/>
<rect x="1045.92" y="603.58" width="28.79" height="39.25" fill="#eff9dc"/>
<rect x="1074.71" y="603.58" width="28.79" height="39.25" fill="#f5fbd2"/>
<rect x="1103.50" y="603.58" width="28.79" height="39.25" fill="#fffab8"/>
<rect x="1132.28" y="603.58" width="28.79" height="39.25" fill="#f3fad5"/>
<rect x="1161.07" y="603.58" width="28.79" height="39.25" fill="#f1fad9"/>
<rect x="1189.86" y="603.58" width="28.79" height="39.25" fill="#e9f7e7"/>
<rect x="1218.65" y="603.58" width="28.79" height="39.25" fill="#feffc1"/>
<rect x="1247.44" y="603.58" width="28.79" height="39.25" fill="#e0f3f8"/>
<rect x="1276.22" y="603.58" width="28.79" height="39.25" fill="#f1fad9"/>
<rect x="1305.01" y="603.58" width="28.79" height="39.25" fill="#fffebe"/>
<rect x="211.07" y="642.83" width="28.79" height="39.25" fill="#f5fbd2"/>
<rect x="239.86" y="642.83" width="28.79" height="39.25" fill="#f1fad9"/>
<rect x="268.65" y="642.83" width="28.79" height="39.25" fill="#f8fccb"/>
<rect x="297.43" y="642.83" width="28.79" height="39.25" fill="#fee699"/>
<rect x="326.22" y="642.83" width="28.79" height="39.25" fill="#fee496"/>
<rect x="355.01" y="642.83" width="28.79" height="39.25" fill="#fee99e"/>
<rect x="383.80" y="642.83" width="28.79" height="39.25" fill="#fed186"/>
<rect x="412.59" y="642.83" width="28.79" height="39.25" fill="#fed186"/>
<rect x="441.37" y="642.83" width="28.79" height="39.25" fill="#fee293"/>
<rect x="470.16" y="642.83" width="28.79" height="39.25" fill="#fedb8d"/>
<rect x="498.95" y="642.83" width="28.79" height="39.25" fill="#f4794e"/>
<rect x="527.74" y="642.83" width="28.79" height="39.25" fill="#d73027"/>
<rect x="556.53" y="642.83" width="28.79" height="39.25" fill="#fed689"/>
<rect x="585.31" y="642.83" width="28.79" height="39.25" fill="#fdbd79"/>
<rect x="614.10" y="642.83" width="28.79" height="39.25" fill="#fffcbb"/>
<rect x="642.89" y="642.83" width="28.79" height="39.25" fill="#fff8b5"/>
<rect x="671.68" y="642.83" width="28.79" height="39.25" fill="#feffc1"/>
<rect x="700.47" y="642.83" width="28.79" height="39.25" fill="#fffebe"/>
<rect x="729.25" y="642.83" width="28.79" height="39.25" fill="#fffebe"/>
<rect x="758.04" y="642.83" width="28.79" height="39.25" fill="#fff3ac"/>
<rect x="786.83" y="642.83" width="28.79" height="39.25" fill="#fffab8"/>
<rect x="815.62" y="642.83" width="28.79" height="39.25" fill="#fffebe"/>
<rect x="844.40" y="642.83" width="28.79" height="39.25" fill="#fffebe"/>
<rect x="873.19" y="642.83" width="28.79" height="39.25" fill="#fff7b2"/>
<rect x="901.98" y="642.83" width="28.79" height="39.25" fill="#fafdc8"/>
<rect x="930.77" y="642.83" width="28.79" height="39.25" fill="#e0f3f8"/>
<rect x="959.56" y="642.83" width="28.79" height="39.25" fill="#eff9dc"/>
<rect x="988.34" y="642.83" width="28.79" height="39.25" fill="#fffebe"/>
<rect x="1017.13" y="642.83" width="28.79" height="39.25" fill="#f1fad9"/>
<rect x="1045.92" y="642.83" width="28.79" height="39.25" fill="#f7fccf"/>
<rect x="1074.71" y="642.83" width="28.79" height="39.25" fill="#feffc1"/>
<rect x="1103.50" y="642.83" width="28.79" height="39.25" fill="#fffcbb"/>
<rect x="1132.28" y="642.83" width="28.79" height="39.25" fill="#eff9dc"/>
<rect x="1161.07" y="642.83" width="28.79" height="39.25" fill="#edf8e0"/>
<rect x="1189.86" y="642.83" width="28.79" height="39.25" fill="#e0f3f8"/>
<rect x="1218.65" y="642.83" width="28.79" height="39.25" fill="#f5fbd2"/>
<rect x="1247.44" y="642.83" width="28.79" height="39.25" fill="#d6edf4"/>
<rect x="1276.22" y="642.83" width="28.79" height="39.25" fill="#f1fad9"/>
<rect x="1305.01" y="642.83" width="28.79" height="39.25" fill="#f8fccb"/>
<rect x="211.07" y="682.09" width="28.79" height="39.25" fill="#e8f6ea"/>
<rect x="239.86" y="682.09" width="28.79" height="39.25" fill="#ebf7e3"/>
<rect x="268.65" y="682.09" width="28.79" height="39.25" fill="#f7fccf"/>
<rect x="297.43" y="682.09" width="28.79" height="39.25" fill="#fff5af"/>
<rect x="326.22" y="682.09" width="28.79" height="39.25" fill="#fee99e"/>
<rect x="355.01" y="682.09" width="28.79" height="39.25" fill="#fffcbb"/>
<rect x="383.80" y="682.09" width="28.79" height="39.25" fill="#feeba1"/>
<rect x="412.59" y="682.09" width="28.79" height="39.25" fill="#feeba1"/>
<rect x="441.37" y="682.09" width="28.79" height="39.25" fill="#feeba1"/>
<rect x="470.16" y="682.09" width="28.79" height="39.25" fill="#fed186"/>
<rect x="498.95" y="682.09" width="28.79" height="39.25" fill="#fecc83"/>
<rect x="527.74" y="682.09" width="28.79" height="39.25" fill="#fed689"/>
<rect x="556.53" y="682.09" width="28.79" height="39.25" fill="#d73027"/>
<rect x="585.31" y="682.09" width="28.79" height="39.25" fill="#fdc77f"/>
<rect x="614.10" y="682.09" width="28.79" height="39.25" fill="#fffcbb"/>
<rect x="642.89" y="682.09" width="28.79" height="39.25" fill="#fffebe"/>
<rect x="671.68" y="682.09" width="28.79" height="39.25" fill="#fff8b5"/>
<rect x="700.47" y="682.09" width="28.79" height="39.25" fill="#fee99e"/>
<rect x="729.25" y="682.09" width="28.79" height="39.25" fill="#fffebe"/>
<rect x="758.04" y="682.09" width="28.79" height="39.25" fill="#fffebe"/>
<rect x="786.83" y="682.09" width="28.79" height="39.25" fill="#fffab8"/>
<rect x="815.62" y="682.09" width="28.79" height="39.25" fill="#f8fccb"/>
<rect x="844.40" y="682.09" width="28.79" height="39.25" fill="#fcfec4"/>
<rect x="873.19" y="682.09" width="28.79" height="39.25" fill="#f8fccb"/>
<rect x="901.98" y="682.09" width="28.79" height="39.25" fill="#fafdc8"/>
<rect x="930.77" y="682.09" width="28.79" height="39.25" fill="#e0f3f8"/>
<rect x="959.56" y="682.09" width="28.79" height="39.25" fill="#c8e3ef"/>
<rect x="988.34" y="682.09" width="28.79" height="39.25" fill="#f5fbd2"/>
<rect x="1017.13" y="682.09" width="28.79" height="39.25" fill="#f1fad9"/>
<rect x="1045.92" y="682.09" width="28.79" height="39.25" fill="#eff9dc"/>
<rect x="1074.71" y="682.09" width="28.79" height="39.25" fill="#f8fccb"/>
<rect x="1103.50" y="682.09" width="28.79" height="39.25" fill="#fafdc8"/>
<rect x="1132.28" y="682.09" width="28.79" height="39.25" fill="#edf8e0"/>
<rect x="1161.07" y="682.09" width="28.79" height="39.25" fill="#fffab8"/>
<rect x="1189.86" y="682.09" width="28.79" height="39.25" fill="#f8fccb"/>
<rect x="1218.65" y="682.09" width="28.79" height="39.25" fill="#fffcbb"/>
<rect x="1247.44" y="682.09" width="28.79" height="39.25" fill="#f5fbd2"/>
<rect x="1276.22" y="682.09" width="28.79" height="39.25" fill="#feefa7"/>
<rect x="1305.01" y="682.09" width="28.79" height="39.25" fill="#f8fccb"/>
<rect x="211.07" y="721.34" width="28.79" height="39.25" fill="#e6f5ee"/>
<rect x="239.86" y="721.34" width="28.79" height="39.25" fill="#eff9dc"/>
<rect x="268.65" y="721.34" width="28.79" height="39.25" fill="#fcfec4"/>
<rect x="297.43" y="721.34" width="28.79" height="39.25" fill="#fff3ac"/>
<rect x="326.22" y="721.34" width="28.79" height="39.25" fill="#fee293"/>
<rect x="355.01" y="721.34" width="28.79" height="39.25" fill="#feefa7"/>
<rect x="383.80" y="721.34" width="28.79" height="39.25" fill="#fee699"/>
<rect x="412.59" y="721.34" width="28.79" height="39.25" fill="#feeba1"/>
<rect x="441.37" y="721.34" width="28.79" height="39.25" fill="#fee293"/>
<rect x="470.16" y="721.34" width="28.79" height="39.25" fill="#fee293"/>
<rect x="498.95" y="721.34" width="28.79" height="39.25" fill="#fdbd79"/>
<rect x="527.74" y="721.34" width="28.79" height="39.25" fill="#fdbd79"/>
<rect x="556.53" y="721.34" width="28.79" height="39.25" fill="#fdc77f"/>
<rect x="585.31" y="721.34" width="28.79" height="39.25" fill="#d73027"/>
<rect x="614.10" y="721.34" width="28.79" height="39.25" fill="#fff7b2"/>
<rect x="642.89" y="721.34" width="28.79" height="39.25" fill="#fffebe"/>
<rect x="671.68" y="721.34" width="28.79" height="39.25" fill="#fffebe"/>
<rect x="700.47" y="721.34" width="28.79" height="39.25" fill="#fee496"/>
<rect x="729.25" y="721.34" width="28.79" height="39.25" fill="#fff1aa"/>
<rect x="758.04" y="721.34" width="28.79" height="39.25" fill="#f3fad5"/>
<rect x="786.83" y="721.34" width="28.79" height="39.25" fill="#f5fbd2"/>
<rect x="815.62" y="721.34" width="28.79" height="39.25" fill="#f7fccf"/>
<rect x="844.40" y="721.34" width="28.79" height="39.25" fill="#fffebe"/>
<rect x="873.19" y="721.34" width="28.79" height="39.25" fill="#f3fad5"/>
<rect x="901.98" y="721.34" width="28.79" height="39.25" fill="#fffebe"/>
<rect x="930.77" y="721.34" width="28.79" height="39.25" fill="#cde6f1"/>
<rect x="959.56" y="721.34" width="28.79" height="39.25" fill="#b0d3e6"/>
<rect x="988.34" y="721.34" width="28.79" height="39.25" fill="#cde6f1"/>
<rect x="1017.13" y="721.34" width="28.79" height="39.25" fill="#d2eaf3"/>
<rect x="1045.92" y="721.34" width="28.79" height="39.25" fill="#badaea"/>
<rect x="1074.71" y="721.34" width="28.79" height="39.25" fill="#edf8e0"/>
<rect x="1103.50" y="721.34" width="28.79" height="39.25" fill="#f8fccb"/>
<rect x="1132.28" y="721.34" width="28.79" height="39.25" fill="#eff9dc"/>
<rect x="1161.07" y="721.34" width="28.79" height="39.25" fill="#e8f6ea"/>
<rect x="1189.86" y="721.34" width="28.79" height="39.25" fill="#edf8e0"/>
<rect x="1218.65" y="721.34" width="28.79" height="39.25" fill="#fff3ac"/>
<rect x="1247.44" y="721.34" width="28.79" height="39.25" fill="#d2eaf3"/>
<rect x="1276.22" y="721.34" width="28.79" height="39.25" fill="#fffebe"/>
<rect x="1305.01" y="721.34" width="28.79" height="39.25" fill="#f1fad9"/>
<rect x="211.07" y="760.59" width="28.79" height="39.25" fill="#fffebe"/>
<rect x="239.86" y="760.59" width="28.79" height="39.25" fill="#f8fccb"/>
<rect x="268.65" y="760.59" width="28.79" height="39.25" fill="#feeda4"/>
<rect x="297.43" y="760.59" width="28.79" height="39.25" fill="#f3fad5"/>
<rect x="326.22" y="760.59" width="28.79" height="39.25" fill="#feffc1"/>
<rect x="355.01" y="760.59" width="28.79" height="39.25" fill="#fffcbb"/>
<rect x="383.80" y="760.59" width="28.79" height="39.25" fill="#fff5af"/>
<rect x="412.59" y="760.59" width="28.79" height="39.25" fill="#fffcbb"/>
<rect x="441.37" y="760.59" width="28.79" height="39.25" fill="#fff8b5"/>
<rect x="470.16" y="760.59" width="28.79" height="39.25" fill="#fffab8"/>
<rect x="498.95" y="760.59" width="28.79" height="39.25" fill="#fffab8"/>
<rect x="527.74" y="760.59" width="28.79" height="39.25" fill="#fffcbb"/>
<rect x="556.53" y="760.59" width="28.79" height="39.25" fill="#fffcbb"/>
<rect x="585.31" y="760.59" width="28.79" height="39.25" fill="#fff7b2"/>
<rect x="614.10" y="760.59" width="28.79" height="39.25" fill="#d73027"/>
<rect x="642.89" y="760.59" width="28.79" height="39.25" fill="#fee293"/>
<rect x="671.68" y="760.59" width="28.79" height="39.25" fill="#feefa7"/>
<rect x="700.47" y="760.59" width="28.79" height="39.25" fill="#fff8b5"/>
<rect x="729.25" y="760.59" width="28.79" height="39.25" fill="#edf8e0"/>
<rect x="758.04" y="760.59" width="28.79" height="39.25" fill="#c8e3ef"/>
<rect x="786.83" y="760.59" width="28.79" height="39.25" fill="#f1fad9"/>
<rect x="815.62" y="760.59" width="28.79" height="39.25" fill="#ebf7e3"/>
<rect x="844.40" y="760.59" width="28.79" height="39.25" fill="#edf8e0"/>
<rect x="873.19" y="760.59" width="28.79" height="39.25" fill="#d2eaf3"/>
<rect x="901.98" y="760.59" width="28.79" height="39.25" fill="#d2eaf3"/>
<rect x="930.77" y="760.59" width="28.79" height="39.25" fill="#fffab8"/>
<rect x="959.56" y="760.59" width="28.79" height="39.25" fill="#eff9dc"/>
<rect x="988.34" y="760.59" width="28.79" height="39.25" fill="#f8fccb"/>
<rect x="1017.13" y="760.59" width="28.79" height="39.25" fill="#f7fccf"/>
<rect x="1045.92" y="760.59" width="28.79" height="39.25" fill="#f5fbd2"/>
<rect x="1074.71" y="760.59" width="28.79" height="39.25" fill="#fffebe"/>
<rect x="1103.50" y="760.59" width="28.79" height="39.25" fill="#fafdc8"/>
<rect x="1132.28" y="760.59" width="28.79" height="39.25" fill="#f5fbd2"/>
<rect x="1161.07" y="760.59" width="28.79" height="39.25" fill="#f8fccb"/>
<rect x="1189.86" y="760.59" width="28.79" height="39.25" fill="#fffebe"/>
<rect x="1218.65" y="760.59" width="28.79" height="39.25" fill="#fff1aa"/>
<rect x="1247.44" y="760.59" width="28.79" height="39.25" fill="#f5fbd2"/>
<rect x="1276.22" y="760.59" width="28.79" height="39.25" fill="#eff9dc"/>
<rect x="1305.01" y="760.59" width="28.79" height="39.25" fill="#fcfec4"/>
<rect x="211.07" y="799.84" width="28.79" height="39.25" fill="#fff8b5"/>
<rect x="239.86" y="799.84" width="28.79" height="39.25" fill="#e6f5ee"/>
<rect x="268.65" y="799.84" width="28.79" height="39.25" fill="#feeda4"/>
<rect x="297.43" y="799.84" width="28.79" height="39.25" fill="#f5fbd2"/>
<rect x="326.22" y="799.84" width="28.79" height="39.25" fill="#fffab8"/>
<rect x="355.01" y="799.84" width="28.79" height="39.25" fill="#fff8b5"/>
<rect x="383.80" y="799.84" width="28.79" height="39.25" fill="#f5fbd2"/>
<rect x="412.59" y="799.84" width="28.79" height="39.25" fill="#f7fccf"/>
<rect x="441.37" y="799.84" width="28.79" height="39.25" fill="#fffebe"/>
<rect x="470.16" y="799.84" width="28.79" height="39.25" fill="#feffc1"/>
<rect x="498.95" y="799.84" width="28.79" height="39.25" fill="#fffebe"/>
<rect x="527.74" y="799.84" width="28.79" height="39.25" fill="#fff8b5"/>
<rect x="556.53" y="799.84" width="28.79" height="39.25" fill="#fffebe"/>
<rect x="585.31" y="799.84" width="28.79" height="39.25" fill="#fffebe"/>
<rect x="614.10" y="799.84" width="28.79" height="39.25" fill="#fee293"/>
<rect x="642.89" y="799.84" width="28.79" height="39.25" fill="#d73027"/>
<rect x="671.68" y="799.84" width="28.79" height="39.25" fill="#f8fccb"/>
<rect x="700.47" y="799.84" width="28.79" height="39.25" fill="#f1fad9"/>
<rect x="729.25" y="799.84" width="28.79" height="39.25" fill="#e4f4f1"/>
<rect x="758.04" y="799.84" width="28.79" height="39.25" fill="#e0f3f8"/>
<rect x="786.83" y="799.84" width="28.79" height="39.25" fill="#f7fccf"/>
<rect x="815.62" y="799.84" width="28.79" height="39.25" fill="#e9f7e7"/>
<rect x="844.40" y="799.84" width="28.79" height="39.25" fill="#c8e3ef"/>
<rect x="873.19" y="799.84" width="28.79" height="39.25" fill="#e0f3f8"/>
<rect x="901.98" y="799.84" width="28.79" height="39.25" fill="#d6edf4"/>
<rect x="930.77" y="799.84" width="28.79" height="39.25" fill="#fffebe"/>
<rect x="959.56" y="799.84" width="28.79" height="39.25" fill="#fffab8"/>
<rect x="988.34" y="799.84" width="28.79" height="39.25" fill="#fffab8"/>
<rect x="1017.13" y="799.84" width="28.79" height="39.25" fill="#fffab8"/>
<rect x="1045.92" y="799.84" width="28.79" height="39.25" fill="#fffab8"/>
<rect x="1074.71" y="799.84" width="28.79" height="39.25" fill="#fffebe"/>
<rect x="1103.50" y="799.84" width="28.79" height="39.25" fill="#f3fad5"/>
<rect x="1132.28" y="799.84" width="28.79" height="39.25" fill="#f5fbd2"/>
<rect x="1161.07" y="799.84" width="28.79" height="39.25" fill="#f3fad5"/>
<rect x="1189.86" y="799.84" width="28.79" height="39.25" fill="#fffebe"/>
<rect x="1218.65" y="799.84" width="28.79" height="39.25" fill="#f7fccf"/>
<rect x="1247.44" y="799.84" width="28.79" height="39.25" fill="#f1fad9"/>
<rect x="1276.22" y="799.84" width="28.79" height="39.25" fill="#f7fccf"/>
<rect x="1305.01" y="799.84" width="28.79" height="39.25" fill="#fffebe"/>
<rect x="211.07" y="839.09" width="28.79" height="39.25" fill="#f8fccb"/>
<rect x="239.86" y="839.09" width="28.79" height="39.25" fill="#fffab8"/>
<rect x="268.65" y="839.09" width="28.79" height="39.25" fill="#fffab8"/>
<rect x="297.43" y="839.09" width="28.79" height="39.25" fill="#f7fccf"/>
<rect x="326.22" y="839.09" width="28.79" height="39.25" fill="#fffebe"/>
<rect x="355.01" y="839.09" width="28.79" height="39.25" fill="#fffab8"/>
<rect x="383.80" y="839.09" width="28.79" height="39.25" fill="#fee99e"/>
<rect x="412.59" y="839.09" width="28.79" height="39.25" fill="#fafdc8"/>
<rect x="441.37" y="839.09" width="28.79" height="39.25" fill="#fffebe"/>
<rect x="470.16" y="839.09" width="28.79" height="39.25" fill="#fffebe"/>
<rect x="498.95" y="839.09" width="28.79" height="39.25" fill="#fff7b2"/>
<rect x="527.74" y="839.09" width="28.79" height="39.25" fill="#feffc1"/>
<rect x="556.53" y="839.09" width="28.79" height="39.25" fill="#fff8b5"/>
<rect x="585.31" y="839.09" width="28.79" height="39.25" fill="#fffebe"/>
<rect x="614.10" y="839.09" width="28.79" height="39.25" fill="#feefa7"/>
<rect x="642.89" y="839.09" width="28.79" height="39.25" fill="#f8fccb"/>
<rect x="671.68" y="839.09" width="28.79" height="39.25" fill="#d73027"/>
<rect x="700.47" y="839.09" width="28.79" height="39.25" fill="#feeba1"/>
<rect x="729.25" y="839.09" width="28.79" height="39.25" fill="#fffcbb"/>
<rect x="758.04" y="839.09" width="28.79" height="39.25" fill="#e9f7e7"/>
<rect x="786.83" y="839.09" width="28.79" height="39.25" fill="#fffebe"/>
<rect x="815.62" y="839.09" width="28.79" height="39.25" fill="#f3fad5"/>
<rect x="844.40" y="839.09" width="28.79" height="39.25" fill="#f8fccb"/>
<rect x="873.19" y="839.09" width="28.79" height="39.25" fill="#edf8e0"/>
<rect x="901.98" y="839.09" width="28.79" height="39.25" fill="#f1fad9"/>
<rect x="930.77" y="839.09" width="28.79" height="39.25" fill="#fffebe"/>
<rect x="959.56" y="839.09" width="28.79" height="39.25" fill="#f1fad9"/>
<rect x="988.34" y="839.09" width="28.79" height="39.25" fill="#e9f7e7"/>
<rect x="1017.13" y="839.09" width="28.79" height="39.25" fill="#e0f3f8"/>
<rect x="1045.92" y="839.09" width="28.79" height="39.25" fill="#ebf7e3"/>
<rect x="1074.71" y="839.09" width="28.79" height="39.25" fill="#fffebe"/>
<rect x="1103.50" y="839.09" width="28.79" height="39.25" fill="#fafdc8"/>
<rect x="1132.28" y="839.09" width="28.79" height="39.25" fill="#fffebe"/>
<rect x="1161.07" y="839.09" width="28.79" height="39.25" fill="#feffc1"/>
<rect x="1189.86" y="839.09" width="28.79" height="39.25" fill="#fffebe"/>
<rect x="1218.65" y="839.09" width="28.79" height="39.25" fill="#fff3ac"/>
<rect x="1247.44" y="839.09" width="28.79" height="39.25" fill="#f8fccb"/>
<rect x="1276.22" y="839.09" width="28.79" height="39.25" fill="#e8f6ea"/>
<rect x="1305.01" y="839.09" width="28.79" height="39.25" fill="#f5fbd2"/>
<rect x="211.07" y="878.34" width="28.79" height="39.25" fill="#d6edf4"/>
<rect x="239.86" y="878.34" width="28.79" height="39.25" fill="#fafdc8"/>
<rect x="268.65" y="878.34" width="28.79" height="39.25" fill="#fffab8"/>
<rect x="297.43" y="878.34" width="28.79" height="39.25" fill="#f5fbd2"/>
<rect x="326.22" y="878.34" width="28.79" height="39.25" fill="#f8fccb"/>
<rect x="355.01" y="878.34" width="28.79" height="39.25" fill="#f3fad5"/>
<rect x="383.80" y="878.34" width="28.79" height="39.25" fill="#fee496"/>
<rect x="412.59" y="878.34" width="28.79" height="39.25" fill="#fee99e"/>
<rect x="441.37" y="878.34" width="28.79" height="39.25" fill="#fff5af"/>
<rect x="470.16" y="878.34" width="28.79" height="39.25" fill="#fff8b5"/>
<rect x="498.95" y="878.34" width="28.79" height="39.25" fill="#fff3ac"/>
<rect x="527.74" y="878.34" width="28.79" height="39.25" fill="#fffebe"/>
<rect x="556.53" y="878.34" width="28.79" height="39.25" fill="#fee99e"/>
<rect x="585.31" y="878.34" width="28.79" height="39.25" fill="#fee496"/>
<rect x="614.10" y="878.34" width="28.79" height="39.25" fill="#fff8b5"/>
<rect x="642.89" y="878.34" width="28.79" height="39.25" fill="#f1fad9"/>
<rect x="671.68" y="878.34" width="28.79" height="39.25" fill="#feeba1"/>
<rect x="700.47" y="878.34" width="28.79" height="39.25" fill="#d73027"/>
<rect x="729.25" y="878.34" width="28.79" height="39.25" fill="#fff8b5"/>
<rect x="758.04" y="878.34" width="28.79" height="39.25" fill="#e4f4f1"/>
<rect x="786.83" y="878.34" width="28.79" height="39.25" fill="#f1fad9"/>
<rect x="815.62" y="878.34" width="28.79" height="39.25" fill="#eff9dc"/>
<rect x="844.40" y="878.34" width="28.79" height="39.25" fill="#feffc1"/>
<rect x="873.19" y="878.34" width="28.79" height="39.25" fill="#e9f7e7"/>
<rect x="901.98" y="878.34" width="28.79" height="39.25" fill="#feffc1"/>
<rect x="930.77" y="878.34" width="28.79" height="39.25" fill="#f1fad9"/>
<rect x="959.56" y="878.34" width="28.79" height="39.25" fill="#b0d3e6"/>
<rect x="988.34" y="878.34" width="28.79" height="39.25" fill="#b5d7e8"/>
<rect x="1017.13" y="878.34" width="28.79" height="39.25" fill="#d2eaf3"/>
<rect x="1045.92" y="878.34" width="28.79" height="39.25" fill="#beddec"/>
<rect x="1074.71" y="878.34" width="28.79" height="39.25" fill="#ebf7e3"/>
<rect x="1103.50" y="878.34" width="28.79" height="39.25" fill="#f1fad9"/>
<rect x="1132.28" y="878.34" width="28.79" height="39.25" fill="#fffebe"/>
<rect x="1161.07" y="878.34" width="28.79" height="39.25" fill="#fffebe"/>
<rect x="1189.86" y="878.34" width="28.79" height="39.25" fill="#fff5af"/>
<rect x="1218.65" y="878.34" width="28.79" height="39.25" fill="#feeba1"/>
<rect x="1247.44" y="878.34" width="28.79" height="39.25" fill="#f3fad5"/>
<rect x="1276.22" y="878.34" width="28.79" height="39.25" fill="#fffebe"/>
<rect x="1305.01" y="878.34" width="28.79" height="39.25" fill="#f5fbd2"/>
<rect x="211.07" y="917.59" width="28.79" height="39.25" fill="#b0d3e6"/>
<rect x="239.86" y="917.59" width="28.79" height="39.25" fill="#e0f3f8"/>
<rect x="268.65" y="917.59" width="28.79" height="39.25" fill="#d6edf4"/>
<rect x="297.43" y="917.59" width="28.79" height="39.25" fill="#fff8b5"/>
<rect x="326.22" y="917.59" width="28.79" height="39.25" fill="#fcfec4"/>
<rect x="355.01" y="917.59" width="28.79" height="39.25" fill="#f1fad9"/>
<rect x="383.80" y="917.59" width="28.79" height="39.25" fill="#fffab8"/>
<rect x="412.59" y="917.59" width="28.79" height="39.25" fill="#fffcbb"/>
<rect x="441.37" y="917.59" width="28.79" height="39.25" fill="#feefa7"/>
<rect x="470.16" y="917.59" width="28.79" height="39.25" fill="#feeba1"/>
<rect x="498.95" y="917.59" width="28.79" height="39.25" fill="#fffab8"/>
<rect x="527.74" y="917.59" width="28.79" height="39.25" fill="#fffebe"/>
<rect x="556.53" y="917.59" width="28.79" height="39.25" fill="#fffebe"/>
<rect x="585.31" y="917.59" width="28.79" height="39.25" fill="#fff1aa"/>
<rect x="614.10" y="917.59" width="28.79" height="39.25" fill="#edf8e0"/>
<rect x="642.89" y="917.59" width="28.79" height="39.25" fill="#e4f4f1"/>
<rect x="671.68" y="917.59" width="28.79" height="39.25" fill="#fffcbb"/>
<rect x="700.47" y="917.59" width="28.79" height="39.25" fill="#fff8b5"/>
<rect x="729.25" y="917.59" width="28.79" height="39.25" fill="#d73027"/>
<rect x="758.04" y="917.59" width="28.79" height="39.25" fill="#feeda4"/>
<rect x="786.83" y="917.59" width="28.79" height="39.25" fill="#feefa7"/>
<rect x="815.62" y="917.59" width="28.79" height="39.25" fill="#fff5af"/>
<rect x="844.40" y="917.59" width="28.79" height="39.25" fill="#feeba1"/>
<rect x="873.19" y="917.59" width="28.79" height="39.25" fill="#fed689"/>
<rect x="901.98" y="917.59" width="28.79" height="39.25" fill="#fecc83"/>
<rect x="930.77" y="917.59" width="28.79" height="39.25" fill="#f7fccf"/>
<rect x="959.56" y="917.59" width="28.79" height="39.25" fill="#f1fad9"/>
<rect x="988.34" y="917.59" width="28.79" height="39.25" fill="#eff9dc"/>
<rect x="1017.13" y="917.59" width="28.79" height="39.25" fill="#f1fad9"/>
<rect x="1045.92" y="917.59" width="28.79" height="39.25" fill="#f1fad9"/>
<rect x="1074.71" y="917.59" width="28.79" height="39.25" fill="#f5fbd2"/>
<rect x="1103.50" y="917.59" width="28.79" height="39.25" fill="#f5fbd2"/>
<rect x="1132.28" y="917.59" width="28.79" height="39.25" fill="#fffebe"/>
<rect x="1161.07" y="917.59" width="28.79" height="39.25" fill="#fcfec4"/>
<rect x="1189.86" y="917.59" width="28.79" height="39.25" fill="#fffebe"/>
<rect x="1218.65" y="917.59" width="28.79" height="39.25" fill="#fafdc8"/>
<rect x="1247.44" y="917.59" width="28.79" height="39.25" fill="#feffc1"/>
<rect x="1276.22" y="917.59" width="28.79" height="39.25" fill="#feefa7"/>
<rect x="1305.01" y="917.59" width="28.79" height="39.25" fill="#feeda4"/>
<rect x="211.07" y="956.84" width="28.79" height="39.25" fill="#feefa7"/>
<rect x="239.86" y="956.84" width="28.79" height="39.25" fill="#fffebe"/>
<rect x="268.65" y="956.84" width="28.79" height="39.25" fill="#d6edf4"/>
<rect x="297.43" y="956.84" width="28.79" height="39.25" fill="#fee99e"/>
<rect x="326.22" y="956.84" width="28.79" height="39.25" fill="#fffcbb"/>
<rect x="355.01" y="956.84" width="28.79" height="39.25" fill="#f3fad5"/>
<rect x="383.80" y="956.84" width="28.79" height="39.25" fill="#fffab8"/>
<rect x="412.59" y="956.84" width="28.79" height="39.25" fill="#fffab8"/>
<rect x="441.37" y="956.84" width="28.79" height="39.25" fill="#fffebe"/>
<rect x="470.16" y="956.84" width="28.79" height="39.25" fill="#fffab8"/>
<rect x="498.95" y="956.84" width="28.79" height="39.25" fill="#f8fccb"/>
<rect x="527.74" y="956.84" width="28.79" height="39.25" fill="#fff3ac"/>
<rect x="556.53" y="956.84" width="28.79" height="39.25" fill="#fffebe"/>
<rect x="585.31" y="956.84" width="28.79" height="39.25" fill="#f3fad5"/>
<rect x="614.10" y="956.84" width="28.79" height="39.25" fill="#c8e3ef"/>
<rect x="642.89" y="956.84" width="28.79" height="39.25" fill="#e0f3f8"/>
<rect x="671.68" y="956.84" width="28.79" height="39.25" fill="#e9f7e7"/>
<rect x="700.47" y="956.84" width="28.79" height="39.25" fill="#e4f4f1"/>
<rect x="729.25" y="956.84" width="28.79" height="39.25" fill="#feeda4"/>
<rect x="758.04" y="956.84" width="28.79" height="39.25" fill="#d73027"/>
<rect x="786.83" y="956.84" width="28.79" height="39.25" fill="#fecc83"/>
<rect x="815.62" y="956.84" width="28.79" height="39.25" fill="#fed689"/>
<rect x="844.40" y="956.84" width="28.79" height="39.25" fill="#fee699"/>
<rect x="873.19" y="956.84" width="28.79" height="39.25" fill="#f67f51"/>
<rect x="901.98" y="956.84" width="28.79" height="39.25" fill="#fedb8d"/>
<rect x="930.77" y="956.84" width="28.79" height="39.25" fill="#fffebe"/>
<rect x="959.56" y="956.84" width="28.79" height="39.25" fill="#fee699"/>
<rect x="988.34" y="956.84" width="28.79" height="39.25" fill="#fee699"/>
<rect x="1017.13" y="956.84" width="28.79" height="39.25" fill="#feeba1"/>
<rect x="1045.92" y="956.84" width="28.79" height="39.25" fill="#feeda4"/>
<rect x="1074.71" y="956.84" width="28.79" height="39.25" fill="#feeda4"/>
<rect x="1103.50" y="956.84" width="28.79" height="39.25" fill="#fff5af"/>
<rect x="1132.28" y="956.84" width="28.79" height="39.25" fill="#f5fbd2"/>
<rect x="1161.07" y="956.84" width="28.79" height="39.25" fill="#feffc1"/>
<rect x="1189.86" y="956.84" width="28.79" height="39.25" fill="#f5fbd2"/>
<rect x="1218.65" y="956.84" width="28.79" height="39.25" fill="#e8f6ea"/>
<rect x="1247.44" y="956.84" width="28.79" height="39.25" fill="#fffab8"/>
<rect x="1276.22" y="956.84" width="28.79" height="39.25" fill="#fff3ac"/>
<rect x="1305.01" y="956.84" width="28.79" height="39.25" fill="#fee699"/>
<rect x="211.07" y="996.10" width="28.79" height="39.25" fill="#ebf7e3"/>
<rect x="239.86" y="996.10" width="28.79" height="39.25" fill="#abd0e5"/>
<rect x="268.65" y="996.10" width="28.79" height="39.25" fill="#85b4d5"/>
<rect x="297.43" y="996.10" width="28.79" height="39.25" fill="#fff3ac"/>
<rect x="326.22" y="996.10" width="28.79" height="39.25" fill="#f8fccb"/>
<rect x="355.01" y="996.10" width="28.79" height="39.25" fill="#f5fbd2"/>
<rect x="383.80" y="996.10" width="28.79" height="39.25" fill="#fffcbb"/>
<rect x="412.59" y="996.10" width="28.79" height="39.25" fill="#fffebe"/>
<rect x="441.37" y="996.10" width="28.79" height="39.25" fill="#fffebe"/>
<rect x="470.16" y="996.10" width="28.79" height="39.25" fill="#fffcbb"/>
<rect x="498.95" y="996.10" width="28.79" height="39.25" fill="#fffebe"/>
<rect x="527.74" y="996.10" width="28.79" height="39.25" fill="#fffab8"/>
<rect x="556.53" y="996.10" width="28.79" height="39.25" fill="#fffab8"/>
<rect x="585.31" y="996.10" width="28.79" height="39.25" fill="#f5fbd2"/>
<rect x="614.10" y="996.10" width="28.79" height="39.25" fill="#f1fad9"/>
<rect x="642.89" y="996.10" width="28.79" height="39.25" fill="#f7fccf"/>
<rect x="671.68" y="996.10" width="28.79" height="39.25" fill="#fffebe"/>
<rect x="700.47" y="996.10" width="28.79" height="39.25" fill="#f1fad9"/>
<rect x="729.25" y="996.10" width="28.79" height="39.25" fill="#feefa7"/>
<rect x="758.04" y="996.10" width="28.79" height="39.25" fill="#fecc83"/>
<rect x="786.83" y="996.10" width="28.79" height="39.25" fill="#d73027"/>
<rect x="815.62" y="996.10" width="28.79" height="39.25" fill="#fc905b"/>
<rect x="844.40" y="996.10" width="28.79" height="39.25" fill="#fda468"/>
<rect x="873.19" y="996.10" width="28.79" height="39.25" fill="#fc9a61"/>
<rect x="901.98" y="996.10" width="28.79" height="39.25" fill="#fdb372"/>
<rect x="930.77" y="996.10" width="28.79" height="39.25" fill="#fffebe"/>
<rect x="959.56" y="996.10" width="28.79" height="39.25" fill="#fff3ac"/>
<rect x="988.34" y="996.10" width="28.79" height="39.25" fill="#fff1aa"/>
<rect x="1017.13" y="996.10" width="28.79" height="39.25" fill="#fffab8"/>
<rect x="1045.92" y="996.10" width="28.79" height="39.25" fill="#fffab8"/>
<rect x="1074.71" y="996.10" width="28.79" height="39.25" fill="#fff1aa"/>
<rect x="1103.50" y="996.10" width="28.79" height="39.25" fill="#fffebe"/>
<rect x="1132.28" y="996.10" width="28.79" height="39.25" fill="#f3fad5"/>
<rect x="1161.07" y="996.10" width="28.79" height="39.25" fill="#feffc1"/>
<rect x="1189.86" y="996.10" width="28.79" height="39.25" fill="#fff8b5"/>
<rect x="1218.65" y="996.10" width="28.79" height="39.25" fill="#feffc1"/>
<rect x="1247.44" y="996.10" width="28.79" height="39.25" fill="#fffcbb"/>
<rect x="1276.22" y="996.10" width="28.79" height="39.25" fill="#f8fccb"/>
<rect x="1305.01" y="996.10" width="28.79" height="39.25" fill="#fff5af"/>
<rect x="211.07" y="1035.35" width="28.79" height="39.25" fill="#f7fccf"/>
<rect x="239.86" y="1035.35" width="28.79" height="39.25" fill="#98c4de"/>
<rect x="268.65" y="1035.35" width="28.79" height="39.25" fill="#5382bb"/>
<rect x="297.43" y="1035.35" width="28.79" height="39.25" fill="#fff3ac"/>
<rect x="326.22" y="1035.35" width="28.79" height="39.25" fill="#f8fccb"/>
<rect x="355.01" y="1035.35" width="28.79" height="39.25" fill="#f7fccf"/>
<rect x="383.80" y="1035.35" width="28.79" height="39.25" fill="#fcfec4"/>
<rect x="412.59" y="1035.35" width="28.79" height="39.25" fill="#feffc1"/>
<rect x="441.37" y="1035.35" width="28.79" height="39.25" fill="#fffebe"/>
<rect x="470.16" y="1035.35" width="28.79" height="39.25" fill="#fffebe"/>
<rect x="498.95" y="1035.35" width="28.79" height="39.25" fill="#fafdc8"/>
<rect x="527.74" y="1035.35" width="28.79" height="39.25" fill="#fffebe"/>
<rect x="556.53" y="1035.35" width="28.79" height="39.25" fill="#f8fccb"/>
<rect x="585.31" y="1035.35" width="28.79" height="39.25" fill="#f7fccf"/>
<rect x="614.10" y="1035.35" width="28.79" height="39.25" fill="#ebf7e3"/>
<rect x="642.89" y="1035.35" width="28.79" height="39.25" fill="#e9f7e7"/>
<rect x="671.68" y="1035.35" width="28.79" height="39.25" fill="#f3fad5"/>
<rect x="700.47" y="1035.35" width="28.79" height="39.25" fill="#eff9dc"/>
<rect x="729.25" y="1035.35" width="28.79" height="39.25" fill="#fff5af"/>
<rect x="758.04" y="1035.35" width="28.79" height="39.25" fill="#fed689"/>
<rect x="786.83" y="1035.35" width="28.79" height="39.25" fill="#fc905b"/>
<rect x="815.62" y="1035.35" width="28.79" height="39.25" fill="#d73027"/>
<rect x="844.40" y="1035.35" width="28.79" height="39.25" fill="#e45239"/>
<rect x="873.19" y="1035.35" width="28.79" height="39.25" fill="#fb8a57"/>
<rect x="901.98" y="1035.35" width="28.79" height="39.25" fill="#fdb372"/>
<rect x="930.77" y="1035.35" width="28.79" height="39.25" fill="#fffcbb"/>
<rect x="959.56" y="1035.35" width="28.79" height="39.25" fill="#feefa7"/>
<rect x="988.34" y="1035.35" width="28.79" height="39.25" fill="#feefa7"/>
<rect x="1017.13" y="1035.35" width="28.79" height="39.25" fill="#fffebe"/>
<rect x="1045.92" y="1035.35" width="28.79" height="39.25" fill="#fffab8"/>
<rect x="1074.71" y="1035.35" width="28.79" height="39.25" fill="#feefa7"/>
<rect x="1103.50" y="1035.35" width="28.79" height="39.25" fill="#fffebe"/>
<rect x="1132.28" y="1035.35" width="28.79" height="39.25" fill="#f1fad9"/>
<rect x="1161.07" y="1035.35" width="28.79" height="39.25" fill="#fff8b5"/>
<rect x="1189.86" y="1035.35" width="28.79" height="39.25" fill="#fafdc8"/>
<rect x="1218.65" y="1035.35" width="28.79" height="39.25" fill="#f8fccb"/>
<rect x="1247.44" y="1035.35" width="28.79" height="39.25" fill="#fffab8"/>
<rect x="1276.22" y="1035.35" width="28.79" height="39.25" fill="#feffc1"/>
<rect x="1305.01" y="1035.35" width="28.79" height="39.25" fill="#fff7b2"/>
<rect x="211.07" y="1074.60" width="28.79" height="39.25" fill="#cde6f1"/>
<rect x="239.86" y="1074.60" width="28.79" height="39.25" fill="#85b4d5"/>
<rect x="268.65" y="1074.60" width="28.79" height="39.25" fill="#4575b4"/>
<rect x="297.43" y="1074.60" width="28.79" height="39.25" fill="#fff5af"/>
<rect x="326.22" y="1074.60" width="28.79" height="39.25" fill="#f8fccb"/>
<rect x="355.01" y="1074.60" width="28.79" height="39.25" fill="#f5fbd2"/>
<rect x="383.80" y="1074.60" width="28.79" height="39.25" fill="#fafdc8"/>
<rect x="412.59" y="1074.60" width="28.79" height="39.25" fill="#fafdc8"/>
<rect x="441.37" y="1074.60" width="28.79" height="39.25" fill="#fffcbb"/>
<rect x="470.16" y="1074.60" width="28.79" height="39.25" fill="#fffebe"/>
<rect x="498.95" y="1074.60" width="28.79" height="39.25" fill="#fffebe"/>
<rect x="527.74" y="1074.60" width="28.79" height="39.25" fill="#fffebe"/>
<rect x="556.53" y="1074.60" width="28.79" height="39.25" fill="#fcfec4"/>
<rect x="585.31" y="1074.60" width="28.79" height="39.25" fill="#fffebe"/>
<rect x="614.10" y="1074.60" width="28.79" height="39.25" fill="#edf8e0"/>
<rect x="642.89" y="1074.60" width="28.79" height="39.25" fill="#c8e3ef"/>
<rect x="671.68" y="1074.60" width="28.79" height="39.25" fill="#f8fccb"/>
<rect x="700.47" y="1074.60" width="28.79" height="39.25" fill="#feffc1"/>
<rect x="729.25" y="1074.60" width="28.79" height="39.25" fill="#feeba1"/>
<rect x="758.04" y="1074.60" width="28.79" height="39.25" fill="#fee699"/>
<rect x="786.83" y="1074.60" width="28.79" height="39.25" fill="#fda468"/>
<rect x="815.62" y="1074.60" width="28.79" height="39.25" fill="#e45239"/>
<rect x="844.40" y="1074.60" width="28.79" height="39.25" fill="#d73027"/>
<rect x="873.19" y="1074.60" width="28.79" height="39.25" fill="#fc955e"/>
<rect x="901.98" y="1074.60" width="28.79" height="39.25" fill="#fc9f65"/>
<rect x="930.77" y="1074.60" width="28.79" height="39.25" fill="#fcfec4"/>
<rect x="959.56" y="1074.60" width="28.79" height="39.25" fill="#fffebe"/>
<rect x="988.34" y="1074.60" width="28.79" height="39.25" fill="#fffab8"/>
<rect x="1017.13" y="1074.60" width="28.79" height="39.25" fill="#f5fbd2"/>
<rect x="1045.92" y="1074.60" width="28.79" height="39.25" fill="#f8fccb"/>
<rect x="1074.71" y="1074.60" width="28.79" height="39.25" fill="#fffab8"/>
<rect x="1103.50" y="1074.60" width="28.79" height="39.25" fill="#feffc1"/>
<rect x="1132.28" y="1074.60" width="28.79" height="39.25" fill="#f1fad9"/>
<rect x="1161.07" y="1074.60" width="28.79" height="39.25" fill="#fff8b5"/>
<rect x="1189.86" y="1074.60" width="28.79" height="39.25" fill="#fafdc8"/>
<rect x="1218.65" y="1074.60" width="28.79" height="39.25" fill="#fcfec4"/>
<rect x="1247.44" y="1074.60" width="28.79" height="39.25" fill="#fffab8"/>
<rect x="1276.22" y="1074.60" width="28.79" height="39.25" fill="#fffebe"/>
<rect x="1305.01" y="1074.60" width="28.79" height="39.25" fill="#fffcbb"/>
<rect x="211.07" y="1113.85" width="28.79" height="39.25" fill="#edf8e0"/>
<rect x="239.86" y="1113.85" width="28.79" height="39.25" fill="#beddec"/>
<rect x="268.65" y="1113.85" width="28.79" height="39.25" fill="#78a6ce"/>
<rect x="297.43" y="1113.85" width="28.79" height="39.25" fill="#fee496"/>
<rect x="326.22" y="1113.85" width="28.79" height="39.25" fill="#fffebe"/>
<rect x="355.01" y="1113.85" width="28.79" height="39.25" fill="#f5fbd2"/>
<rect x="383.80" y="1113.85" width="28.79" height="39.25" fill="#fffcbb"/>
<rect x="412.59" y="1113.85" width="28.79" height="39.25" fill="#fffab8"/>
<rect x="441.37" y="1113.85" width="28.79" height="39.25" fill="#fffab8"/>
<rect x="470.16" y="1113.85" width="28.79" height="39.25" fill="#fff7b2"/>
<rect x="498.95" y="1113.85" width="28.79" height="39.25" fill="#fafdc8"/>
<rect x="527.74" y="1113.85" width="28.79" height="39.25" fill="#fff7b2"/>
<rect x="556.53" y="1113.85" width="28.79" height="39.25" fill="#f8fccb"/>
<rect x="585.31" y="1113.85" width="28.79" height="39.25" fill="#f3fad5"/>
<rect x="614.10" y="1113.85" width="28.79" height="39.25" fill="#d2eaf3"/>
<rect x="642.89" y="1113.85" width="28.79" height="39.25" fill="#e0f3f8"/>
<rect x="671.68" y="1113.85" width="28.79" height="39.25" fill="#edf8e0"/>
<rect x="700.47" y="1113.85" width="28.79" height="39.25" fill="#e9f7e7"/>
<rect x="729.25" y="1113.85" width="28.79" height="39.25" fill="#fed689"/>
<rect x="758.04" y="1113.85" width="28.79" height="39.25" fill="#f67f51"/>
<rect x="786.83" y="1113.85" width="28.79" height="39.25" fill="#fc9a61"/>
<rect x="815.62" y="1113.85" width="28.79" height="39.25" fill="#fb8a57"/>
<rect x="844.40" y="1113.85" width="28.79" height="39.25" fill="#fc955e"/>
<rect x="873.19" y="1113.85" width="28.79" height="39.25" fill="#d73027"/>
<rect x="901.98" y="1113.85" width="28.79" height="39.25" fill="#fb8a57"/>
<rect x="930.77" y="1113.85" width="28.79" height="39.25" fill="#fffebe"/>
<rect x="959.56" y="1113.85" width="28.79" height="39.25" fill="#fee99e"/>
<rect x="988.34" y="1113.85" width="28.79" height="39.25" fill="#fee99e"/>
<rect x="1017.13" y="1113.85" width="28.79" height="39.25" fill="#feeda4"/>
<rect x="1045.92" y="1113.85" width="28.79" height="39.25" fill="#feeda4"/>
<rect x="1074.71" y="1113.85" width="28.79" height="39.25" fill="#fee99e"/>
<rect x="1103.50" y="1113.85" width="28.79" height="39.25" fill="#fffcbb"/>
<rect x="1132.28" y="1113.85" width="28.79" height="39.25" fill="#f7fccf"/>
<rect x="1161.07" y="1113.85" width="28.79" height="39.25" fill="#fffebe"/>
<rect x="1189.86" y="1113.85" width="28.79" height="39.25" fill="#f7fccf"/>
<rect x="1218.65" y="1113.85" width="28.79" height="39.25" fill="#ebf7e3"/>
<rect x="1247.44" y="1113.85" width="28.79" height="39.25" fill="#fffcbb"/>
<rect x="1276.22" y="1113.85" width="28.79" height="39.25" fill="#fffcbb"/>
<rect x="1305.01" y="1113.85" width="28.79" height="39.25" fill="#fee99e"/>
<rect x="211.07" y="1153.10" width="28.79" height="39.25" fill="#badaea"/>
<rect x="239.86" y="1153.10" width="28.79" height="39.25" fill="#b5d7e8"/>
<rect x="268.65" y="1153.10" width="28.79" height="39.25" fill="#7cabd0"/>
<rect x="297.43" y="1153.10" width="28.79" height="39.25" fill="#fff7b2"/>
<rect x="326.22" y="1153.10" width="28.79" height="39.25" fill="#f7fccf"/>
<rect x="355.01" y="1153.10" width="28.79" height="39.25" fill="#f1fad9"/>
<rect x="383.80" y="1153.10" width="28.79" height="39.25" fill="#feffc1"/>
<rect x="412.59" y="1153.10" width="28.79" height="39.25" fill="#feffc1"/>
<rect x="441.37" y="1153.10" width="28.79" height="39.25" fill="#fffebe"/>
<rect x="470.16" y="1153.10" width="28.79" height="39.25" fill="#fff8b5"/>
<rect x="498.95" y="1153.10" width="28.79" height="39.25" fill="#fafdc8"/>
<rect x="527.74" y="1153.10" width="28.79" height="39.25" fill="#fafdc8"/>
<rect x="556.53" y="1153.10" width="28.79" height="39.25" fill="#fafdc8"/>
<rect x="585.31" y="1153.10" width="28.79" height="39.25" fill="#fffebe"/>
<rect x="614.10" y="1153.10" width="28.79" height="39.25" fill="#d2eaf3"/>
<rect x="642.89" y="1153.10" width="28.79" height="39.25" fill="#d6edf4"/>
<rect x="671.68" y="1153.10" width="28.79" height="39.25" fill="#f1fad9"/>
<rect x="700.47" y="1153.10" width="28.79" height="39.25" fill="#feffc1"/>
<rect x="729.25" y="1153.10" width="28.79" height="39.25" fill="#fecc83"/>
<rect x="758.04" y="1153.10" width="28.79" height="39.25" fill="#fedb8d"/>
<rect x="786.83" y="1153.10" width="28.79" height="39.25" fill="#fdb372"/>
<rect x="815.62" y="1153.10" width="28.79" height="39.25" fill="#fdb372"/>
<rect x="844.40" y="1153.10" width="28.79" height="39.25" fill="#fc9f65"/>
<rect x="873.19" y="1153.10" width="28.79" height="39.25" fill="#fb8a57"/>
<rect x="901.98" y="1153.10" width="28.79" height="39.25" fill="#d73027"/>
<rect x="930.77" y="1153.10" width="28.79" height="39.25" fill="#fafdc8"/>
<rect x="959.56" y="1153.10" width="28.79" height="39.25" fill="#fff5af"/>
<rect x="988.34" y="1153.10" width="28.79" height="39.25" fill="#fffebe"/>
<rect x="1017.13" y="1153.10" width="28.79" height="39.25" fill="#feffc1"/>
<rect x="1045.92" y="1153.10" width="28.79" height="39.25" fill="#fffebe"/>
<rect x="1074.71" y="1153.10" width="28.79" height="39.25" fill="#fffab8"/>
<rect x="1103.50" y="1153.10" width="28.79" height="39.25" fill="#f8fccb"/>
<rect x="1132.28" y="1153.10" width="28.79" height="39.25" fill="#fffebe"/>
<rect x="1161.07" y="1153.10" width="28.79" height="39.25" fill="#fffebe"/>
<rect x="1189.86" y="1153.10" width="28.79" height="39.25" fill="#fffebe"/>
<rect x="1218.65" y="1153.10" width="28.79" height="39.25" fill="#f5fbd2"/>
<rect x="1247.44" y="1153.10" width="28.79" height="39.25" fill="#fffcbb"/>
<rect x="1276.22" y="1153.10" width="28.79" height="39.25" fill="#fff3ac"/>
<rect x="1305.01" y="1153.10" width="28.79" height="39.25" fill="#feeda4"/>
<rect x="211.07" y="1192.35" width="28.79" height="39.25" fill="#feefa7"/>
<rect x="239.86" y="1192.35" width="28.79" height="39.25" fill="#fff7b2"/>
<rect x="268.65" y="1192.35" width="28.79" height="39.25" fill="#fffebe"/>
<rect x="297.43" y="1192.35" width="28.79" height="39.25" fill="#f8fccb"/>
<rect x="326.22" y="1192.35" width="28.79" height="39.25" fill="#a2cae1"/>
<rect x="355.01" y="1192.35" width="28.79" height="39.25" fill="#f8fccb"/>
<rect x="383.80" y="1192.35" width="28.79" height="39.25" fill="#f8fccb"/>
<rect x="412.59" y="1192.35" width="28.79" height="39.25" fill="#fffebe"/>
<rect x="441.37" y="1192.35" width="28.79" height="39.25" fill="#d6edf4"/>
<rect x="470.16" y="1192.35" width="28.79" height="39.25" fill="#e8f6ea"/>
<rect x="498.95" y="1192.35" width="28.79" height="39.25" fill="#e0f3f8"/>
<rect x="527.74" y="1192.35" width="28.79" height="39.25" fill="#e0f3f8"/>
<rect x="556.53" y="1192.35" width="28.79" height="39.25" fill="#e0f3f8"/>
<rect x="585.31" y="1192.35" width="28.79" height="39.25" fill="#cde6f1"/>
<rect x="614.10" y="1192.35" width="28.79" height="39.25" fill="#fffab8"/>
<rect x="642.89" y="1192.35" width="28.79" height="39.25" fill="#fffebe"/>
<rect x="671.68" y="1192.35" width="28.79" height="39.25" fill="#fffebe"/>
<rect x="700.47" y="1192.35" width="28.79" height="39.25" fill="#f1fad9"/>
<rect x="729.25" y="1192.35" width="28.79" height="39.25" fill="#f7fccf"/>
<rect x="758.04" y="1192.35" width="28.79" height="39.25" fill="#fffebe"/>
<rect x="786.83" y="1192.35" width="28.79" height="39.25" fill="#fffebe"/>
<rect x="815.62" y="1192.35" width="28.79" height="39.25" fill="#fffcbb"/>
<rect x="844.40" y="1192.35" width="28.79" height="39.25" fill="#fcfec4"/>
<rect x="873.19" y="1192.35" width="28.79" height="39.25" fill="#fffebe"/>
<rect x="901.98" y="1192.35" width="28.79" height="39.25" fill="#fafdc8"/>
<rect x="930.77" y="1192.35" width="28.79" height="39.25" fill="#d73027"/>
<rect x="959.56" y="1192.35" width="28.79" height="39.25" fill="#fee699"/>
<rect x="988.34" y="1192.35" width="28.79" height="39.25" fill="#fee699"/>
<rect x="1017.13" y="1192.35" width="28.79" height="39.25" fill="#fee99e"/>
<rect x="1045.92" y="1192.35" width="28.79" height="39.25" fill="#fee699"/>
<rect x="1074.71" y="1192.35" width="28.79" height="39.25" fill="#fee496"/>
<rect x="1103.50" y="1192.35" width="28.79" height="39.25" fill="#fee699"/>
<rect x="1132.28" y="1192.35" width="28.79" height="39.25" fill="#fffebe"/>
<rect x="1161.07" y="1192.35" width="28.79" height="39.25" fill="#f7fccf"/>
<rect x="1189.86" y="1192.35" width="28.79" height="39.25" fill="#f7fccf"/>
<rect x="1218.65" y="1192.35" width="28.79" height="39.25" fill="#f5fbd2"/>
<rect x="1247.44" y="1192.35" width="28.79" height="39.25" fill="#f8fccb"/>
<rect x="1276.22" y="1192.35" width="28.79" height="39.25" fill="#f8fccb"/>
<rect x="1305.01" y="1192.35" width="28.79" height="39.25" fill="#f7fccf"/>
<rect x="211.07" y="1231.60" width="28.79" height="39.25" fill="#fedb8d"/>
<rect x="239.86" y="1231.60" width="28.79" height="39.25" fill="#feeda4"/>
<rect x="268.65" y="1231.60" width="28.79" height="39.25" fill="#f5fbd2"/>
<rect x="297.43" y="1231.60" width="28.79" height="39.25" fill="#fffebe"/>
<rect x="326.22" y="1231.60" width="28.79" height="39.25" fill="#fafdc8"/>
<rect x="355.01" y="1231.60" width="28.79" height="39.25" fill="#feffc1"/>
<rect x="383.80" y="1231.60" width="28.79" height="39.25" fill="#fcfec4"/>
<rect x="412.59" y="1231.60" width="28.79" height="39.25" fill="#feffc1"/>
<rect x="441.37" y="1231.60" width="28.79" height="39.25" fill="#f3fad5"/>
<rect x="470.16" y="1231.60" width="28.79" height="39.25" fill="#f7fccf"/>
<rect x="498.95" y="1231.60" width="28.79" height="39.25" fill="#ebf7e3"/>
<rect x="527.74" y="1231.60" width="28.79" height="39.25" fill="#eff9dc"/>
<rect x="556.53" y="1231.60" width="28.79" height="39.25" fill="#c8e3ef"/>
<rect x="585.31" y="1231.60" width="28.79" height="39.25" fill="#b0d3e6"/>
<rect x="614.10" y="1231.60" width="28.79" height="39.25" fill="#eff9dc"/>
<rect x="642.89" y="1231.60" width="28.79" height="39.25" fill="#fffab8"/>
<rect x="671.68" y="1231.60" width="28.79" height="39.25" fill="#f1fad9"/>
<rect x="700.47" y="1231.60" width="28.79" height="39.25" fill="#b0d3e6"/>
<rect x="729.25" y="1231.60" width="28.79" height="39.25" fill="#f1fad9"/>
<rect x="758.04" y="1231.60" width="28.79" height="39.25" fill="#fee699"/>
<rect x="786.83" y="1231.60" width="28.79" height="39.25" fill="#fff3ac"/>
<rect x="815.62" y="1231.60" width="28.79" height="39.25" fill="#feefa7"/>
<rect x="844.40" y="1231.60" width="28.79" height="39.25" fill="#fffebe"/>
<rect x="873.19" y="1231.60" width="28.79" height="39.25" fill="#fee99e"/>
<rect x="901.98" y="1231.60" width="28.79" height="39.25" fill="#fff5af"/>
<rect x="930.77" y="1231.60" width="28.79" height="39.25" fill="#fee699"/>
<rect x="959.56" y="1231.60" width="28.79" height="39.25" fill="#d73027"/>
<rect x="988.34" y="1231.60" width="28.79" height="39.25" fill="#fc9a61"/>
<rect x="1017.13" y="1231.60" width="28.79" height="39.25" fill="#fdbd79"/>
<rect x="1045.92" y="1231.60" width="28.79" height="39.25" fill="#f67f51"/>
<rect x="1074.71" y="1231.60" width="28.79" height="39.25" fill="#fdc77f"/>
<rect x="1103.50" y="1231.60" width="28.79" height="39.25" fill="#fee699"/>
<rect x="1132.28" y="1231.60" width="28.79" height="39.25" fill="#fee99e"/>
<rect x="1161.07" y="1231.60" width="28.79" height="39.25" fill="#feffc1"/>
<rect x="1189.86" y="1231.60" width="28.79" height="39.25" fill="#f5fbd2"/>
<rect x="1218.65" y="1231.60" width="28.79" height="39.25" fill="#e0f3f8"/>
<rect x="1247.44" y="1231.60" width="28.79" height="39.25" fill="#fffebe"/>
<rect x="1276.22" y="1231.60" width="28.79" height="39.25" fill="#f8fccb"/>
<rect x="1305.01" y="1231.60" width="28.79" height="39.25" fill="#feeba1"/>
<rect x="211.07" y="1270.85" width="28.79" height="39.25" fill="#fee699"/>
<rect x="239.86" y="1270.85" width="28.79" height="39.25" fill="#fffebe"/>
<rect x="268.65" y="1270.85" width="28.79" height="39.25" fill="#f3fad5"/>
<rect x="297.43" y="1270.85" width="28.79" height="39.25" fill="#fff7b2"/>
<rect x="326.22" y="1270.85" width="28.79" height="39.25" fill="#f7fccf"/>
<rect x="355.01" y="1270.85" width="28.79" height="39.25" fill="#fee699"/>
<rect x="383.80" y="1270.85" width="28.79" height="39.25" fill="#f7fccf"/>
<rect x="412.59" y="1270.85" width="28.79" height="39.25" fill="#fffebe"/>
<rect x="441.37" y="1270.85" width="28.79" height="39.25" fill="#f3fad5"/>
<rect x="470.16" y="1270.85" width="28.79" height="39.25" fill="#fff7b2"/>
<rect x="498.95" y="1270.85" width="28.79" height="39.25" fill="#f1fad9"/>
<rect x="527.74" y="1270.85" width="28.79" height="39.25" fill="#fffebe"/>
<rect x="556.53" y="1270.85" width="28.79" height="39.25" fill="#f5fbd2"/>
<rect x="585.31" y="1270.85" width="28.79" height="39.25" fill="#cde6f1"/>
<rect x="614.10" y="1270.85" width="28.79" height="39.25" fill="#f8fccb"/>
<rect x="642.89" y="1270.85" width="28.79" height="39.25" fill="#fffab8"/>
<rect x="671.68" y="1270.85" width="28.79" height="39.25" fill="#e9f7e7"/>
<rect x="700.47" y="1270.85" width="28.79" height="39.25" fill="#b5d7e8"/>
<rect x="729.25" y="1270.85" width="28.79" height="39.25" fill="#eff9dc"/>
<rect x="758.04" y="1270.85" width="28.79" height="39.25" fill="#fee699"/>
<rect x="786.83" y="1270.85" width="28.79" height="39.25" fill="#fff1aa"/>
<rect x="815.62" y="1270.85" width="28.79" height="39.25" fill="#feefa7"/>
<rect x="844.40" y="1270.85" width="28.79" height="39.25" fill="#fffab8"/>
<rect x="873.19" y="1270.85" width="28.79" height="39.25" fill="#fee99e"/>
<rect x="901.98" y="1270.85" width="28.79" height="39.25" fill="#fffebe"/>
<rect x="930.77" y="1270.85" width="28.79" height="39.25" fill="#fee699"/>
<rect x="959.56" y="1270.85" width="28.79" height="39.25" fill="#fc9a61"/>
<rect x="988.34" y="1270.85" width="28.79" height="39.25" fill="#d73027"/>
<rect x="1017.13" y="1270.85" width="28.79" height="39.25" fill="#fc905b"/>
<rect x="1045.92" y="1270.85" width="28.79" height="39.25" fill="#e7573c"/>
<rect x="1074.71" y="1270.85" width="28.79" height="39.25" fill="#fc9f65"/>
<rect x="1103.50" y="1270.85" width="28.79" height="39.25" fill="#fed186"/>
<rect x="1132.28" y="1270.85" width="28.79" height="39.25" fill="#ebf7e3"/>
<rect x="1161.07" y="1270.85" width="28.79" height="39.25" fill="#fffebe"/>
<rect x="1189.86" y="1270.85" width="28.79" height="39.25" fill="#ebf7e3"/>
<rect x="1218.65" y="1270.85" width="28.79" height="39.25" fill="#e9f7e7"/>
<rect x="1247.44" y="1270.85" width="28.79" height="39.25" fill="#fffebe"/>
<rect x="1276.22" y="1270.85" width="28.79" height="39.25" fill="#fff3ac"/>
<rect x="1305.01" y="1270.85" width="28.79" height="39.25" fill="#feeda4"/>
<rect x="211.07" y="1310.11" width="28.79" height="39.25" fill="#fee699"/>
<rect x="239.86" y="1310.11" width="28.79" height="39.25" fill="#feeda4"/>
<rect x="268.65" y="1310.11" width="28.79" height="39.25" fill="#fffebe"/>
<rect x="297.43" y="1310.11" width="28.79" height="39.25" fill="#fff8b5"/>
<rect x="326.22" y="1310.11" width="28.79" height="39.25" fill="#f7fccf"/>
<rect x="355.01" y="1310.11" width="28.79" height="39.25" fill="#feefa7"/>
<rect x="383.80" y="1310.11" width="28.79" height="39.25" fill="#fcfec4"/>
<rect x="412.59" y="1310.11" width="28.79" height="39.25" fill="#fffab8"/>
<rect x="441.37" y="1310.11" width="28.79" height="39.25" fill="#eff9dc"/>
<rect x="470.16" y="1310.11" width="28.79" height="39.25" fill="#fffab8"/>
<rect x="498.95" y="1310.11" width="28.79" height="39.25" fill="#e8f6ea"/>
<rect x="527.74" y="1310.11" width="28.79" height="39.25" fill="#f1fad9"/>
<rect x="556.53" y="1310.11" width="28.79" height="39.25" fill="#f1fad9"/>
<rect x="585.31" y="1310.11" width="28.79" height="39.25" fill="#d2eaf3"/>
<rect x="614.10" y="1310.11" width="28.79" height="39.25" fill="#f7fccf"/>
<rect x="642.89" y="1310.11" width="28.79" height="39.25" fill="#fffab8"/>
<rect x="671.68" y="1310.11" width="28.79" height="39.25" fill="#e0f3f8"/>
<rect x="700.47" y="1310.11" width="28.79" height="39.25" fill="#d2eaf3"/>
<rect x="729.25" y="1310.11" width="28.79" height="39.25" fill="#f1fad9"/>
<rect x="758.04" y="1310.11" width="28.79" height="39.25" fill="#feeba1"/>
<rect x="786.83" y="1310.11" width="28.79" height="39.25" fill="#fffab8"/>
<rect x="815.62" y="1310.11" width="28.79" height="39.25" fill="#fffebe"/>
<rect x="844.40" y="1310.11" width="28.79" height="39.25" fill="#f5fbd2"/>
<rect x="873.19" y="1310.11" width="28.79" height="39.25" fill="#feeda4"/>
<rect x="901.98" y="1310.11" width="28.79" height="39.25" fill="#feffc1"/>
<rect x="930.77" y="1310.11" width="28.79" height="39.25" fill="#fee99e"/>
<rect x="959.56" y="1310.11" width="28.79" height="39.25" fill="#fdbd79"/>
<rect x="988.34" y="1310.11" width="28.79" height="39.25" fill="#fc905b"/>
<rect x="1017.13" y="1310.11" width="28.79" height="39.25" fill="#d73027"/>
<rect x="1045.92" y="1310.11" width="28.79" height="39.25" fill="#f4794e"/>
<rect x="1074.71" y="1310.11" width="28.79" height="39.25" fill="#fc9f65"/>
<rect x="1103.50" y="1310.11" width="28.79" height="39.25" fill="#fee496"/>
<rect x="1132.28" y="1310.11" width="28.79" height="39.25" fill="#feeda4"/>
<rect x="1161.07" y="1310.11" width="28.79" height="39.25" fill="#feffc1"/>
<rect x="1189.86" y="1310.11" width="28.79" height="39.25" fill="#f8fccb"/>
<rect x="1218.65" y="1310.11" width="28.79" height="39.25" fill="#f3fad5"/>
<rect x="1247.44" y="1310.11" width="28.79" height="39.25" fill="#feffc1"/>
<rect x="1276.22" y="1310.11" width="28.79" height="39.25" fill="#feeba1"/>
<rect x="1305.01" y="1310.11" width="28.79" height="39.25" fill="#fee99e"/>
<rect x="211.07" y="1349.36" width="28.79" height="39.25" fill="#fee99e"/>
<rect x="239.86" y="1349.36" width="28.79" height="39.25" fill="#fff3ac"/>
<rect x="268.65" y="1349.36" width="28.79" height="39.25" fill="#feffc1"/>
<rect x="297.43" y="1349.36" width="28.79" height="39.25" fill="#fffab8"/>
<rect x="326.22" y="1349.36" width="28.79" height="39.25" fill="#f5fbd2"/>
<rect x="355.01" y="1349.36" width="28.79" height="39.25" fill="#fee99e"/>
<rect x="383.80" y="1349.36" width="28.79" height="39.25" fill="#fffebe"/>
<rect x="412.59" y="1349.36" width="28.79" height="39.25" fill="#fff8b5"/>
<rect x="441.37" y="1349.36" width="28.79" height="39.25" fill="#f1fad9"/>
<rect x="470.16" y="1349.36" width="28.79" height="39.25" fill="#fff7b2"/>
<rect x="498.95" y="1349.36" width="28.79" height="39.25" fill="#eff9dc"/>
<rect x="527.74" y="1349.36" width="28.79" height="39.25" fill="#f7fccf"/>
<rect x="556.53" y="1349.36" width="28.79" height="39.25" fill="#eff9dc"/>
<rect x="585.31" y="1349.36" width="28.79" height="39.25" fill="#badaea"/>
<rect x="614.10" y="1349.36" width="28.79" height="39.25" fill="#f5fbd2"/>
<rect x="642.89" y="1349.36" width="28.79" height="39.25" fill="#fffab8"/>
<rect x="671.68" y="1349.36" width="28.79" height="39.25" fill="#ebf7e3"/>
<rect x="700.47" y="1349.36" width="28.79" height="39.25" fill="#beddec"/>
<rect x="729.25" y="1349.36" width="28.79" height="39.25" fill="#f1fad9"/>
<rect x="758.04" y="1349.36" width="28.79" height="39.25" fill="#feeda4"/>
<rect x="786.83" y="1349.36" width="28.79" height="39.25" fill="#fffab8"/>
<rect x="815.62" y="1349.36" width="28.79" height="39.25" fill="#fffab8"/>
<rect x="844.40" y="1349.36" width="28.79" height="39.25" fill="#f8fccb"/>
<rect x="873.19" y="1349.36" width="28.79" height="39.25" fill="#feeda4"/>
<rect x="901.98" y="1349.36" width="28.79" height="39.25" fill="#fffebe"/>
<rect x="930.77" y="1349.36" width="28.79" height="39.25" fill="#fee699"/>
<rect x="959.56" y="1349.36" width="28.79" height="39.25" fill="#f67f51"/>
<rect x="988.34" y="1349.36" width="28.79" height="39.25" fill="#e7573c"/>
<rect x="1017.13" y="1349.36" width="28.79" height="39.25" fill="#f4794e"/>
<rect x="1045.92" y="1349.36" width="28.79" height="39.25" fill="#d73027"/>
<rect x="1074.71" y="1349.36" width="28.79" height="39.25" fill="#fc9a61"/>
<rect x="1103.50" y="1349.36" width="28.79" height="39.25" fill="#fecc83"/>
<rect x="1132.28" y="1349.36" width="28.79" height="39.25" fill="#fedb8d"/>
<rect x="1161.07" y="1349.36" width="28.79" height="39.25" fill="#fffcbb"/>
<rect x="1189.86" y="1349.36" width="28.79" height="39.25" fill="#f5fbd2"/>
<rect x="1218.65" y="1349.36" width="28.79" height="39.25" fill="#e8f6ea"/>
<rect x="1247.44" y="1349.36" width="28.79" height="39.25" fill="#fffebe"/>
<rect x="1276.22" y="1349.36" width="28.79" height="39.25" fill="#fff5af"/>
<rect x="1305.01" y="1349.36" width="28.79" height="39.25" fill="#feeda4"/>
<rect x="211.07" y="1388.61" width="28.79" height="39.25" fill="#fff3ac"/>
<rect x="239.86" y="1388.61" width="28.79" height="39.25" fill="#fffcbb"/>
<rect x="268.65" y="1388.61" width="28.79" height="39.25" fill="#f1fad9"/>
<rect x="297.43" y="1388.61" width="28.79" height="39.25" fill="#fff7b2"/>
<rect x="326.22" y="1388.61" width="28.79" height="39.25" fill="#fff7b2"/>
<rect x="355.01" y="1388.61" width="28.79" height="39.25" fill="#feeda4"/>
<rect x="383.80" y="1388.61" width="28.79" height="39.25" fill="#fee89b"/>
<rect x="412.59" y="1388.61" width="28.79" height="39.25" fill="#fee99e"/>
<rect x="441.37" y="1388.61" width="28.79" height="39.25" fill="#f5fbd2"/>
<rect x="470.16" y="1388.61" width="28.79" height="39.25" fill="#fff1aa"/>
<rect x="498.95" y="1388.61" width="28.79" height="39.25" fill="#f5fbd2"/>
<rect x="527.74" y="1388.61" width="28.79" height="39.25" fill="#feffc1"/>
<rect x="556.53" y="1388.61" width="28.79" height="39.25" fill="#f8fccb"/>
<rect x="585.31" y="1388.61" width="28.79" height="39.25" fill="#edf8e0"/>
<rect x="614.10" y="1388.61" width="28.79" height="39.25" fill="#fffebe"/>
<rect x="642.89" y="1388.61" width="28.79" height="39.25" fill="#fffebe"/>
<rect x="671.68" y="1388.61" width="28.79" height="39.25" fill="#fffebe"/>
<rect x="700.47" y="1388.61" width="28.79" height="39.25" fill="#ebf7e3"/>
<rect x="729.25" y="1388.61" width="28.79" height="39.25" fill="#f5fbd2"/>
<rect x="758.04" y="1388.61" width="28.79" height="39.25" fill="#feeda4"/>
<rect x="786.83" y="1388.61" width="28.79" height="39.25" fill="#fff1aa"/>
<rect x="815.62" y="1388.61" width="28.79" height="39.25" fill="#feefa7"/>
<rect x="844.40" y="1388.61" width="28.79" height="39.25" fill="#fffab8"/>
<rect x="873.19" y="1388.61" width="28.79" height="39.25" fill="#fee99e"/>
<rect x="901.98" y="1388.61" width="28.79" height="39.25" fill="#fffab8"/>
<rect x="930.77" y="1388.61" width="28.79" height="39.25" fill="#fee496"/>
<rect x="959.56" y="1388.61" width="28.79" height="39.25" fill="#fdc77f"/>
<rect x="988.34" y="1388.61" width="28.79" height="39.25" fill="#fc9f65"/>
<rect x="1017.13" y="1388.61" width="28.79" height="39.25" fill="#fc9f65"/>
<rect x="1045.92" y="1388.61" width="28.79" height="39.25" fill="#fc9a61"/>
<rect x="1074.71" y="1388.61" width="28.79" height="39.25" fill="#d73027"/>
<rect x="1103.50" y="1388.61" width="28.79" height="39.25" fill="#fdae6f"/>
<rect x="1132.28" y="1388.61" width="28.79" height="39.25" fill="#fff3ac"/>
<rect x="1161.07" y="1388.61" width="28.79" height="39.25" fill="#fffcbb"/>
<rect x="1189.86" y="1388.61" width="28.79" height="39.25" fill="#e8f6ea"/>
<rect x="1218.65" y="1388.61" width="28.79" height="39.25" fill="#f3fad5"/>
<rect x="1247.44" y="1388.61" width="28.79" height="39.25" fill="#eff9dc"/>
<rect x="1276.22" y="1388.61" width="28.79" height="39.25" fill="#fffebe"/>
<rect x="1305.01" y="1388.61" width="28.79" height="39.25" fill="#feeda4"/>
<rect x="211.07" y="1427.86" width="28.79" height="39.25" fill="#fff3ac"/>
<rect x="239.86" y="1427.86" width="28.79" height="39.25" fill="#fff5af"/>
<rect x="268.65" y="1427.86" width="28.79" height="39.25" fill="#fffebe"/>
<rect x="297.43" y="1427.86" width="28.79" height="39.25" fill="#feefa7"/>
<rect x="326.22" y="1427.86" width="28.79" height="39.25" fill="#fff1aa"/>
<rect x="355.01" y="1427.86" width="28.79" height="39.25" fill="#fee99e"/>
<rect x="383.80" y="1427.86" width="28.79" height="39.25" fill="#fee496"/>
<rect x="412.59" y="1427.86" width="28.79" height="39.25" fill="#fee496"/>
<rect x="441.37" y="1427.86" width="28.79" height="39.25" fill="#fffebe"/>
<rect x="470.16" y="1427.86" width="28.79" height="39.25" fill="#feffc1"/>
<rect x="498.95" y="1427.86" width="28.79" height="39.25" fill="#fffab8"/>
<rect x="527.74" y="1427.86" width="28.79" height="39.25" fill="#fffcbb"/>
<rect x="556.53" y="1427.86" width="28.79" height="39.25" fill="#fafdc8"/>
<rect x="585.31" y="1427.86" width="28.79" height="39.25" fill="#f8fccb"/>
<rect x="614.10" y="1427.86" width="28.79" height="39.25" fill="#fafdc8"/>
<rect x="642.89" y="1427.86" width="28.79" height="39.25" fill="#f3fad5"/>
<rect x="671.68" y="1427.86" width="28.79" height="39.25" fill="#fafdc8"/>
<rect x="700.47" y="1427.86" width="28.79" height="39.25" fill="#f1fad9"/>
<rect x="729.25" y="1427.86" width="28.79" height="39.25" fill="#f5fbd2"/>
<rect x="758.04" y="1427.86" width="28.79" height="39.25" fill="#fff5af"/>
<rect x="786.83" y="1427.86" width="28.79" height="39.25" fill="#fffebe"/>
<rect x="815.62" y="1427.86" width="28.79" height="39.25" fill="#fffebe"/>
<rect x="844.40" y="1427.86" width="28.79" height="39.25" fill="#feffc1"/>
<rect x="873.19" y="1427.86" width="28.79" height="39.25" fill="#fffcbb"/>
<rect x="901.98" y="1427.86" width="28.79" height="39.25" fill="#f8fccb"/>
<rect x="930.77" y="1427.86" width="28.79" height="39.25" fill="#fee699"/>
<rect x="959.56" y="1427.86" width="28.79" height="39.25" fill="#fee699"/>
<rect x="988.34" y="1427.86" width="28.79" height="39.25" fill="#fed186"/>
<rect x="1017.13" y="1427.86" width="28.79" height="39.25" fill="#fee496"/>
<rect x="1045.92" y="1427.86" width="28.79" height="39.25" fill="#fecc83"/>
<rect x="1074.71" y="1427.86" width="28.79" height="39.25" fill="#fdae6f"/>
<rect x="1103.50" y="1427.86" width="28.79" height="39.25" fill="#d73027"/>
<rect x="1132.28" y="1427.86" width="28.79" height="39.25" fill="#fffebe"/>
<rect x="1161.07" y="1427.86" width="28.79" height="39.25" fill="#f8fccb"/>
<rect x="1189.86" y="1427.86" width="28.79" height="39.25" fill="#e0f3f8"/>
<rect x="1218.65" y="1427.86" width="28.79" height="39.25" fill="#eff9dc"/>
<rect x="1247.44" y="1427.86" width="28.79" height="39.25" fill="#f1fad9"/>
<rect x="1276.22" y="1427.86" width="28.79" height="39.25" fill="#edf8e0"/>
<rect x="1305.01" y="1427.86" width="28.79" height="39.25" fill="#f7fccf"/>
<rect x="211.07" y="1467.11" width="28.79" height="39.25" fill="#f8fccb"/>
<rect x="239.86" y="1467.11" width="28.79" height="39.25" fill="#feeda4"/>
<rect x="268.65" y="1467.11" width="28.79" height="39.25" fill="#fff3ac"/>
<rect x="297.43" y="1467.11" width="28.79" height="39.25" fill="#feffc1"/>
<rect x="326.22" y="1467.11" width="28.79" height="39.25" fill="#f1fad9"/>
<rect x="355.01" y="1467.11" width="28.79" height="39.25" fill="#f7fccf"/>
<rect x="383.80" y="1467.11" width="28.79" height="39.25" fill="#fff5af"/>
<rect x="412.59" y="1467.11" width="28.79" height="39.25" fill="#fff3ac"/>
<rect x="441.37" y="1467.11" width="28.79" height="39.25" fill="#f8fccb"/>
<rect x="470.16" y="1467.11" width="28.79" height="39.25" fill="#fcfec4"/>
<rect x="498.95" y="1467.11" width="28.79" height="39.25" fill="#f3fad5"/>
<rect x="527.74" y="1467.11" width="28.79" height="39.25" fill="#eff9dc"/>
<rect x="556.53" y="1467.11" width="28.79" height="39.25" fill="#edf8e0"/>
<rect x="585.31" y="1467.11" width="28.79" height="39.25" fill="#eff9dc"/>
<rect x="614.10" y="1467.11" width="28.79" height="39.25" fill="#f5fbd2"/>
<rect x="642.89" y="1467.11" width="28.79" height="39.25" fill="#f5fbd2"/>
<rect x="671.68" y="1467.11" width="28.79" height="39.25" fill="#fffebe"/>
<rect x="700.47" y="1467.11" width="28.79" height="39.25" fill="#fffebe"/>
<rect x="729.25" y="1467.11" width="28.79" height="39.25" fill="#fffebe"/>
<rect x="758.04" y="1467.11" width="28.79" height="39.25" fill="#f5fbd2"/>
<rect x="786.83" y="1467.11" width="28.79" height="39.25" fill="#f3fad5"/>
<rect x="815.62" y="1467.11" width="28.79" height="39.25" fill="#f1fad9"/>
<rect x="844.40" y="1467.11" width="28.79" height="39.25" fill="#f1fad9"/>
<rect x="873.19" y="1467.11" width="28.79" height="39.25" fill="#f7fccf"/>
<rect x="901.98" y="1467.11" width="28.79" height="39.25" fill="#fffebe"/>
<rect x="930.77" y="1467.11" width="28.79" height="39.25" fill="#fffebe"/>
<rect x="959.56" y="1467.11" width="28.79" height="39.25" fill="#fee99e"/>
<rect x="988.34" y="1467.11" width="28.79" height="39.25" fill="#ebf7e3"/>
<rect x="1017.13" y="1467.11" width="28.79" height="39.25" fill="#feeda4"/>
<rect x="1045.92" y="1467.11" width="28.79" height="39.25" fill="#fedb8d"/>
<rect x="1074.71" y="1467.11" width="28.79" height="39.25" fill="#fff3ac"/>
<rect x="1103.50" y="1467.11" width="28.79" height="39.25" fill="#fffebe"/>
<rect x="1132.28" y="1467.11" width="28.79" height="39.25" fill="#d73027"/>
<rect x="1161.07" y="1467.11" width="28.79" height="39.25" fill="#fffab8"/>
<rect x="1189.86" y="1467.11" width="28.79" height="39.25" fill="#fff3ac"/>
<rect x="1218.65" y="1467.11" width="28.79" height="39.25" fill="#fafdc8"/>
<rect x="1247.44" y="1467.11" width="28.79" height="39.25" fill="#fafdc8"/>
<rect x="1276.22" y="1467.11" width="28.79" height="39.25" fill="#f8fccb"/>
<rect x="1305.01" y="1467.11" width="28.79" height="39.25" fill="#fffcbb"/>
<rect x="211.07" y="1506.36" width="28.79" height="39.25" fill="#fcfec4"/>
<rect x="239.86" y="1506.36" width="28.79" height="39.25" fill="#f8fccb"/>
<rect x="268.65" y="1506.36" width="28.79" height="39.25" fill="#f5fbd2"/>
<rect x="297.43" y="1506.36" width="28.79" height="39.25" fill="#fffebe"/>
<rect x="326.22" y="1506.36" width="28.79" height="39.25" fill="#eff9dc"/>
<rect x="355.01" y="1506.36" width="28.79" height="39.25" fill="#eff9dc"/>
<rect x="383.80" y="1506.36" width="28.79" height="39.25" fill="#fffebe"/>
<rect x="412.59" y="1506.36" width="28.79" height="39.25" fill="#fffebe"/>
<rect x="441.37" y="1506.36" width="28.79" height="39.25" fill="#f5fbd2"/>
<rect x="470.16" y="1506.36" width="28.79" height="39.25" fill="#f8fccb"/>
<rect x="498.95" y="1506.36" width="28.79" height="39.25" fill="#f1fad9"/>
<rect x="527.74" y="1506.36" width="28.79" height="39.25" fill="#edf8e0"/>
<rect x="556.53" y="1506.36" width="28.79" height="39.25" fill="#fffab8"/>
<rect x="585.31" y="1506.36" width="28.79" height="39.25" fill="#e8f6ea"/>
<rect x="614.10" y="1506.36" width="28.79" height="39.25" fill="#f8fccb"/>
<rect x="642.89" y="1506.36" width="28.79" height="39.25" fill="#f3fad5"/>
<rect x="671.68" y="1506.36" width="28.79" height="39.25" fill="#feffc1"/>
<rect x="700.47" y="1506.36" width="28.79" height="39.25" fill="#fffebe"/>
<rect x="729.25" y="1506.36" width="28.79" height="39.25" fill="#fcfec4"/>
<rect x="758.04" y="1506.36" width="28.79" height="39.25" fill="#feffc1"/>
<rect x="786.83" y="1506.36" width="28.79" height="39.25" fill="#feffc1"/>
<rect x="815.62" y="1506.36" width="28.79" height="39.25" fill="#fff8b5"/>
<rect x="844.40" y="1506.36" width="28.79" height="39.25" fill="#fff8b5"/>
<rect x="873.19" y="1506.36" width="28.79" height="39.25" fill="#fffebe"/>
<rect x="901.98" y="1506.36" width="28.79" height="39.25" fill="#fffebe"/>
<rect x="930.77" y="1506.36" width="28.79" height="39.25" fill="#f7fccf"/>
<rect x="959.56" y="1506.36" width="28.79" height="39.25" fill="#feffc1"/>
<rect x="988.34" y="1506.36" width="28.79" height="39.25" fill="#fffebe"/>
<rect x="1017.13" y="1506.36" width="28.79" height="39.25" fill="#feffc1"/>
<rect x="1045.92" y="1506.36" width="28.79" height="39.25" fill="#fffcbb"/>
<rect x="1074.71" y="1506.36" width="28.79" height="39.25" fill="#fffcbb"/>
<rect x="1103.50" y="1506.36" width="28.79" height="39.25" fill="#f8fccb"/>
<rect x="1132.28" y="1506.36" width="28.79" height="39.25" fill="#fffab8"/>
<rect x="1161.07" y="1506.36" width="28.79" height="39.25" fill="#d73027"/>
<rect x="1189.86" y="1506.36" width="28.79" height="39.25" fill="#fed689"/>
<rect x="1218.65" y="1506.36" width="28.79" height="39.25" fill="#fee99e"/>
<rect x="1247.44" y="1506.36" width="28.79" height="39.25" fill="#fff5af"/>
<rect x="1276.22" y="1506.36" width="28.79" height="39.25" fill="#fff1aa"/>
<rect x="1305.01" y="1506.36" width="28.79" height="39.25" fill="#fff3ac"/>
<rect x="211.07" y="1545.61" width="28.79" height="39.25" fill="#f7fccf"/>
<rect x="239.86" y="1545.61" width="28.79" height="39.25" fill="#f7fccf"/>
<rect x="268.65" y="1545.61" width="28.79" height="39.25" fill="#fffebe"/>
<rect x="297.43" y="1545.61" width="28.79" height="39.25" fill="#f1fad9"/>
<rect x="326.22" y="1545.61" width="28.79" height="39.25" fill="#e8f6ea"/>
<rect x="355.01" y="1545.61" width="28.79" height="39.25" fill="#c8e3ef"/>
<rect x="383.80" y="1545.61" width="28.79" height="39.25" fill="#f1fad9"/>
<rect x="412.59" y="1545.61" width="28.79" height="39.25" fill="#f3fad5"/>
<rect x="441.37" y="1545.61" width="28.79" height="39.25" fill="#f3fad5"/>
<rect x="470.16" y="1545.61" width="28.79" height="39.25" fill="#ebf7e3"/>
<rect x="498.95" y="1545.61" width="28.79" height="39.25" fill="#e9f7e7"/>
<rect x="527.74" y="1545.61" width="28.79" height="39.25" fill="#e0f3f8"/>
<rect x="556.53" y="1545.61" width="28.79" height="39.25" fill="#f8fccb"/>
<rect x="585.31" y="1545.61" width="28.79" height="39.25" fill="#edf8e0"/>
<rect x="614.10" y="1545.61" width="28.79" height="39.25" fill="#fffebe"/>
<rect x="642.89" y="1545.61" width="28.79" height="39.25" fill="#fffebe"/>
<rect x="671.68" y="1545.61" width="28.79" height="39.25" fill="#fffebe"/>
<rect x="700.47" y="1545.61" width="28.79" height="39.25" fill="#fff5af"/>
<rect x="729.25" y="1545.61" width="28.79" height="39.25" fill="#fffebe"/>
<rect x="758.04" y="1545.61" width="28.79" height="39.25" fill="#f5fbd2"/>
<rect x="786.83" y="1545.61" width="28.79" height="39.25" fill="#fff8b5"/>
<rect x="815.62" y="1545.61" width="28.79" height="39.25" fill="#fafdc8"/>
<rect x="844.40" y="1545.61" width="28.79" height="39.25" fill="#fafdc8"/>
<rect x="873.19" y="1545.61" width="28.79" height="39.25" fill="#f7fccf"/>
<rect x="901.98" y="1545.61" width="28.79" height="39.25" fill="#fffebe"/>
<rect x="930.77" y="1545.61" width="28.79" height="39.25" fill="#f7fccf"/>
<rect x="959.56" y="1545.61" width="28.79" height="39.25" fill="#f5fbd2"/>
<rect x="988.34" y="1545.61" width="28.79" height="39.25" fill="#ebf7e3"/>
<rect x="1017.13" y="1545.61" width="28.79" height="39.25" fill="#f8fccb"/>
<rect x="1045.92" y="1545.61" width="28.79" height="39.25" fill="#f5fbd2"/>
<rect x="1074.71" y="1545.61" width="28.79" height="39.25" fill="#e8f6ea"/>
<rect x="1103.50" y="1545.61" width="28.79" height="39.25" fill="#e0f3f8"/>
<rect x="1132.28" y="1545.61" width="28.79" height="39.25" fill="#fff3ac"/>
<rect x="1161.07" y="1545.61" width="28.79" height="39.25" fill="#fed689"/>
<rect x="1189.86" y="1545.61" width="28.79" height="39.25" fill="#d73027"/>
<rect x="1218.65" y="1545.61" width="28.79" height="39.25" fill="#fc9f65"/>
<rect x="1247.44" y="1545.61" width="28.79" height="39.25" fill="#feefa7"/>
<rect x="1276.22" y="1545.61" width="28.79" height="39.25" fill="#fff1aa"/>
<rect x="1305.01" y="1545.61" width="28.79" height="39.25" fill="#feefa7"/>
<rect x="211.07" y="1584.86" width="28.79" height="39.25" fill="#f1fad9"/>
<rect x="239.86" y="1584.86" width="28.79" height="39.25" fill="#f8fccb"/>
<rect x="268.65" y="1584.86" width="28.79" height="39.25" fill="#fffebe"/>
<rect x="297.43" y="1584.86" width="28.79" height="39.25" fill="#eff9dc"/>
<rect x="326.22" y="1584.86" width="28.79" height="39.25" fill="#eff9dc"/>
<rect x="355.01" y="1584.86" width="28.79" height="39.25" fill="#ebf7e3"/>
<rect x="383.80" y="1584.86" width="28.79" height="39.25" fill="#fffebe"/>
<rect x="412.59" y="1584.86" width="28.79" height="39.25" fill="#f8fccb"/>
<rect x="441.37" y="1584.86" width="28.79" height="39.25" fill="#eff9dc"/>
<rect x="470.16" y="1584.86" width="28.79" height="39.25" fill="#eff9dc"/>
<rect x="498.95" y="1584.86" width="28.79" height="39.25" fill="#feffc1"/>
<rect x="527.74" y="1584.86" width="28.79" height="39.25" fill="#f5fbd2"/>
<rect x="556.53" y="1584.86" width="28.79" height="39.25" fill="#fffcbb"/>
<rect x="585.31" y="1584.86" width="28.79" height="39.25" fill="#fff3ac"/>
<rect x="614.10" y="1584.86" width="28.79" height="39.25" fill="#fff1aa"/>
<rect x="642.89" y="1584.86" width="28.79" height="39.25" fill="#f7fccf"/>
<rect x="671.68" y="1584.86" width="28.79" height="39.25" fill="#fff3ac"/>
<rect x="700.47" y="1584.86" width="28.79" height="39.25" fill="#feeba1"/>
<rect x="729.25" y="1584.86" width="28.79" height="39.25" fill="#fafdc8"/>
<rect x="758.04" y="1584.86" width="28.79" height="39.25" fill="#e8f6ea"/>
<rect x="786.83" y="1584.86" width="28.79" height="39.25" fill="#feffc1"/>
<rect x="815.62" y="1584.86" width="28.79" height="39.25" fill="#f8fccb"/>
<rect x="844.40" y="1584.86" width="28.79" height="39.25" fill="#fcfec4"/>
<rect x="873.19" y="1584.86" width="28.79" height="39.25" fill="#ebf7e3"/>
<rect x="901.98" y="1584.86" width="28.79" height="39.25" fill="#f5fbd2"/>
<rect x="930.77" y="1584.86" width="28.79" height="39.25" fill="#f5fbd2"/>
<rect x="959.56" y="1584.86" width="28.79" height="39.25" fill="#e0f3f8"/>
<rect x="988.34" y="1584.86" width="28.79" height="39.25" fill="#e9f7e7"/>
<rect x="1017.13" y="1584.86" width="28.79" height="39.25" fill="#f3fad5"/>
<rect x="1045.92" y="1584.86" width="28.79" height="39.25" fill="#e8f6ea"/>
<rect x="1074.71" y="1584.86" width="28.79" height="39.25" fill="#f3fad5"/>
<rect x="1103.50" y="1584.86" width="28.79" height="39.25" fill="#eff9dc"/>
<rect x="1132.28" y="1584.86" width="28.79" height="39.25" fill="#fafdc8"/>
<rect x="1161.07" y="1584.86" width="28.79" height="39.25" fill="#fee99e"/>
<rect x="1189.86" y="1584.86" width="28.79" height="39.25" fill="#fc9f65"/>
<rect x="1218.65" y="1584.86" width="28.79" height="39.25" fill="#d73027"/>
<rect x="1247.44" y="1584.86" width="28.79" height="39.25" fill="#fffebe"/>
<rect x="1276.22" y="1584.86" width="28.79" height="39.25" fill="#fffebe"/>
<rect x="1305.01" y="1584.86" width="28.79" height="39.25" fill="#fffcbb"/>
<rect x="211.07" y="1624.12" width="28.79" height="39.25" fill="#fffebe"/>
<rect x="239.86" y="1624.12" width="28.79" height="39.25" fill="#fffebe"/>
<rect x="268.65" y="1624.12" width="28.79" height="39.25" fill="#f3fad5"/>
<rect x="297.43" y="1624.12" width="28.79" height="39.25" fill="#eff9dc"/>
<rect x="326.22" y="1624.12" width="28.79" height="39.25" fill="#e0f3f8"/>
<rect x="355.01" y="1624.12" width="28.79" height="39.25" fill="#e9f7e7"/>
<rect x="383.80" y="1624.12" width="28.79" height="39.25" fill="#c8e3ef"/>
<rect x="412.59" y="1624.12" width="28.79" height="39.25" fill="#c3e0ed"/>
<rect x="441.37" y="1624.12" width="28.79" height="39.25" fill="#f1fad9"/>
<rect x="470.16" y="1624.12" width="28.79" height="39.25" fill="#edf8e0"/>
<rect x="498.95" y="1624.12" width="28.79" height="39.25" fill="#e0f3f8"/>
<rect x="527.74" y="1624.12" width="28.79" height="39.25" fill="#d6edf4"/>
<rect x="556.53" y="1624.12" width="28.79" height="39.25" fill="#f5fbd2"/>
<rect x="585.31" y="1624.12" width="28.79" height="39.25" fill="#d2eaf3"/>
<rect x="614.10" y="1624.12" width="28.79" height="39.25" fill="#f5fbd2"/>
<rect x="642.89" y="1624.12" width="28.79" height="39.25" fill="#f1fad9"/>
<rect x="671.68" y="1624.12" width="28.79" height="39.25" fill="#f8fccb"/>
<rect x="700.47" y="1624.12" width="28.79" height="39.25" fill="#f3fad5"/>
<rect x="729.25" y="1624.12" width="28.79" height="39.25" fill="#feffc1"/>
<rect x="758.04" y="1624.12" width="28.79" height="39.25" fill="#fffab8"/>
<rect x="786.83" y="1624.12" width="28.79" height="39.25" fill="#fffcbb"/>
<rect x="815.62" y="1624.12" width="28.79" height="39.25" fill="#fffab8"/>
<rect x="844.40" y="1624.12" width="28.79" height="39.25" fill="#fffab8"/>
<rect x="873.19" y="1624.12" width="28.79" height="39.25" fill="#fffcbb"/>
<rect x="901.98" y="1624.12" width="28.79" height="39.25" fill="#fffcbb"/>
<rect x="930.77" y="1624.12" width="28.79" height="39.25" fill="#f8fccb"/>
<rect x="959.56" y="1624.12" width="28.79" height="39.25" fill="#fffebe"/>
<rect x="988.34" y="1624.12" width="28.79" height="39.25" fill="#fffebe"/>
<rect x="1017.13" y="1624.12" width="28.79" height="39.25" fill="#feffc1"/>
<rect x="1045.92" y="1624.12" width="28.79" height="39.25" fill="#fffebe"/>
<rect x="1074.71" y="1624.12" width="28.79" height="39.25" fill="#eff9dc"/>
<rect x="1103.50" y="1624.12" width="28.79" height="39.25" fill="#f1fad9"/>
<rect x="1132.28" y="1624.12" width="28.79" height="39.25" fill="#fafdc8"/>
<rect x="1161.07" y="1624.12" width="28.79" height="39.25" fill="#fff5af"/>
<rect x="1189.86" y="1624.12" width="28.79" height="39.25" fill="#feefa7"/>
<rect x="1218.65" y="1624.12" width="28.79" height="39.25" fill="#fffebe"/>
<rect x="1247.44" y="1624.12" width="28.79" height="39.25" fill="#d73027"/>
<rect x="1276.22" y="1624.12" width="28.79" height="39.25" fill="#feeda4"/>
<rect x="1305.01" y="1624.12" width="28.79" height="39.25" fill="#fff3ac"/>
<rect x="211.07" y="1663.37" width="28.79" height="39.25" fill="#f5fbd2"/>
<rect x="239.86" y="1663.37" width="28.79" height="39.25" fill="#f7fccf"/>
<rect x="268.65" y="1663.37" width="28.79" height="39.25" fill="#f5fbd2"/>
<rect x="297.43" y="1663.37" width="28.79" height="39.25" fill="#f1fad9"/>
<rect x="326.22" y="1663.37" width="28.79" height="39.25" fill="#e8f6ea"/>
<rect x="355.01" y="1663.37" width="28.79" height="39.25" fill="#ebf7e3"/>
<rect x="383.80" y="1663.37" width="28.79" height="39.25" fill="#e9f7e7"/>
<rect x="412.59" y="1663.37" width="28.79" height="39.25" fill="#ebf7e3"/>
<rect x="441.37" y="1663.37" width="28.79" height="39.25" fill="#f1fad9"/>
<rect x="470.16" y="1663.37" width="28.79" height="39.25" fill="#feefa7"/>
<rect x="498.95" y="1663.37" width="28.79" height="39.25" fill="#f1fad9"/>
<rect x="527.74" y="1663.37" width="28.79" height="39.25" fill="#f1fad9"/>
<rect x="556.53" y="1663.37" width="28.79" height="39.25" fill="#feefa7"/>
<rect x="585.31" y="1663.37" width="28.79" height="39.25" fill="#fffebe"/>
<rect x="614.10" y="1663.37" width="28.79" height="39.25" fill="#eff9dc"/>
<rect x="642.89" y="1663.37" width="28.79" height="39.25" fill="#f7fccf"/>
<rect x="671.68" y="1663.37" width="28.79" height="39.25" fill="#e8f6ea"/>
<rect x="700.47" y="1663.37" width="28.79" height="39.25" fill="#fffebe"/>
<rect x="729.25" y="1663.37" width="28.79" height="39.25" fill="#feefa7"/>
<rect x="758.04" y="1663.37" width="28.79" height="39.25" fill="#fff3ac"/>
<rect x="786.83" y="1663.37" width="28.79" height="39.25" fill="#f8fccb"/>
<rect x="815.62" y="1663.37" width="28.79" height="39.25" fill="#feffc1"/>
<rect x="844.40" y="1663.37" width="28.79" height="39.25" fill="#fffebe"/>
<rect x="873.19" y="1663.37" width="28.79" height="39.25" fill="#fffcbb"/>
<rect x="901.98" y="1663.37" width="28.79" height="39.25" fill="#fff3ac"/>
<rect x="930.77" y="1663.37" width="28.79" height="39.25" fill="#f8fccb"/>
<rect x="959.56" y="1663.37" width="28.79" height="39.25" fill="#f8fccb"/>
<rect x="988.34" y="1663.37" width="28.79" height="39.25" fill="#fff3ac"/>
<rect x="1017.13" y="1663.37" width="28.79" height="39.25" fill="#feeba1"/>
<rect x="1045.92" y="1663.37" width="28.79" height="39.25" fill="#fff5af"/>
<rect x="1074.71" y="1663.37" width="28.79" height="39.25" fill="#fffebe"/>
<rect x="1103.50" y="1663.37" width="28.79" height="39.25" fill="#edf8e0"/>
<rect x="1132.28" y="1663.37" width="28.79" height="39.25" fill="#f8fccb"/>
<rect x="1161.07" y="1663.37" width="28.79" height="39.25" fill="#fff1aa"/>
<rect x="1189.86" y="1663.37" width="28.79" height="39.25" fill="#fff1aa"/>
<rect x="1218.65" y="1663.37" width="28.79" height="39.25" fill="#fffebe"/>
<rect x="1247.44" y="1663.37" width="28.79" height="39.25" fill="#feeda4"/>
<rect x="1276.22" y="1663.37" width="28.79" height="39.25" fill="#d73027"/>
<rect x="1305.01" y="1663.37" width="28.79" height="39.25" fill="#fdb875"/>
<rect x="211.07" y="1702.62" width="28.79" height="39.25" fill="#f8fccb"/>
<rect x="239.86" y="1702.62" width="28.79" height="39.25" fill="#f7fccf"/>
<rect x="268.65" y="1702.62" width="28.79" height="39.25" fill="#f1fad9"/>
<rect x="297.43" y="1702.62" width="28.79" height="39.25" fill="#d6edf4"/>
<rect x="326.22" y="1702.62" width="28.79" height="39.25" fill="#edf8e0"/>
<rect x="355.01" y="1702.62" width="28.79" height="39.25" fill="#f5fbd2"/>
<rect x="383.80" y="1702.62" width="28.79" height="39.25" fill="#fffab8"/>
<rect x="412.59" y="1702.62" width="28.79" height="39.25" fill="#fffab8"/>
<rect x="441.37" y="1702.62" width="28.79" height="39.25" fill="#fff7b2"/>
<rect x="470.16" y="1702.62" width="28.79" height="39.25" fill="#fee99e"/>
<rect x="498.95" y="1702.62" width="28.79" height="39.25" fill="#fffebe"/>
<rect x="527.74" y="1702.62" width="28.79" height="39.25" fill="#f8fccb"/>
<rect x="556.53" y="1702.62" width="28.79" height="39.25" fill="#f8fccb"/>
<rect x="585.31" y="1702.62" width="28.79" height="39.25" fill="#f1fad9"/>
<rect x="614.10" y="1702.62" width="28.79" height="39.25" fill="#fcfec4"/>
<rect x="642.89" y="1702.62" width="28.79" height="39.25" fill="#fffebe"/>
<rect x="671.68" y="1702.62" width="28.79" height="39.25" fill="#f5fbd2"/>
<rect x="700.47" y="1702.62" width="28.79" height="39.25" fill="#f5fbd2"/>
<rect x="729.25" y="1702.62" width="28.79" height="39.25" fill="#feeda4"/>
<rect x="758.04" y="1702.62" width="28.79" height="39.25" fill="#fee699"/>
<rect x="786.83" y="1702.62" width="28.79" height="39.25" fill="#fff5af"/>
<rect x="815.62" y="1702.62" width="28.79" height="39.25" fill="#fff7b2"/>
<rect x="844.40" y="1702.62" width="28.79" height="39.25" fill="#fffcbb"/>
<rect x="873.19" y="1702.62" width="28.79" height="39.25" fill="#fee99e"/>
<rect x="901.98" y="1702.62" width="28.79" height="39.25" fill="#feeda4"/>
<rect x="930.77" y="1702.62" width="28.79" height="39.25" fill="#f7fccf"/>
<rect x="959.56" y="1702.62" width="28.79" height="39.25" fill="#feeba1"/>
<rect x="988.34" y="1702.62" width="28.79" height="39.25" fill="#feeda4"/>
<rect x="1017.13" y="1702.62" width="28.79" height="39.25" fill="#fee99e"/>
<rect x="1045.92" y="1702.62" width="28.79" height="39.25" fill="#feeda4"/>
<rect x="1074.71" y="1702.62" width="28.79" height="39.25" fill="#feeda4"/>
<rect x="1103.50" y="1702.62" width="28.79" height="39.25" fill="#f7fccf"/>
<rect x="1132.28" y="1702.62" width="28.79" height="39.25" fill="#fffcbb"/>
<rect x="1161.07" y="1702.62" width="28.79" height="39.25" fill="#fff3ac"/>
<rect x="1189.86" y="1702.62" width="28.79" height="39.25" fill="#feefa7"/>
<rect x="1218.65" y="1702.62" width="28.79" height="39.25" fill="#fffcbb"/>
<rect x="1247.44" y="1702.62" width="28.79" height="39.25" fill="#fff3ac"/>
<rect x="1276.22" y="1702.62" width="28.79" height="39.25" fill="#fdb875"/>
<rect x="1305.01" y="1702.62" width="28.79" height="39.25" fill="#d73027"/>
</g>
<g class="d">
<polyline points="254.25,211.07 254.25,134.10 283.04,134.10 283.04,211.07"/>
<polyline points="225.46,211.07 225.46,99.10 268.65,99.10 268.65,134.10"/>
<polyline points="340.62,211.07 340.62,106.60 369.40,106.60 369.40,211.07"/>
<polyline points="311.83,211.07 311.83,102.70 355.01,102.70 355.01,106.60"/>
<polyline points="398.19,211.07 398.19,184.20 426.98,184.20 426.98,211.07"/>
<polyline points="455.77,211.07 455.77,156.10 484.56,156.10 484.56,211.07"/>
<polyline points="513.34,211.07 513.34,164.70 542.13,164.70 542.13,211.07"/>
<polyline points="570.92,211.07 570.92,126.50 599.71,126.50 599.71,211.07"/>
<polyline points="527.74,164.70 527.74,122.40 585.31,122.40 585.31,126.50"/>
<polyline points="470.16,156.10 470.16,111.70 556.53,111.70 556.53,122.40"/>
<polyline points="412.59,184.20 412.59,101.00 513.34,101.00 513.34,111.70"/>
<polyline points="333.42,102.70 333.42,81.80 462.96,81.80 462.96,101.00"/>
<polyline points="628.50,211.07 628.50,123.60 657.28,123.60 657.28,211.07"/>
<polyline points="686.07,211.07 686.07,106.50 714.86,106.50 714.86,211.07"/>
<polyline points="642.89,123.60 642.89,77.00 700.47,77.00 700.47,106.50"/>
<polyline points="398.19,81.80 398.19,62.10 671.68,62.10 671.68,77.00"/>
<polyline points="830.01,211.07 830.01,170.50 858.80,170.50 858.80,211.07"/>
<polyline points="801.22,211.07 801.22,151.20 844.40,151.20 844.40,170.50"/>
<polyline points="887.59,211.07 887.59,145.50 916.37,145.50 916.37,211.07"/>
<polyline points="822.81,151.20 822.81,140.50 901.98,140.50 901.98,145.50"/>
<polyline points="772.43,211.07 772.43,104.20 862.40,104.20 862.40,140.50"/>
<polyline points="743.65,211.07 743.65,86.20 817.42,86.20 817.42,104.20"/>
<polyline points="1031.53,211.07 1031.53,165.30 1060.31,165.30 1060.31,211.07"/>
<polyline points="1002.74,211.07 1002.74,156.10 1045.92,156.10 1045.92,165.30"/>
<polyline points="973.95,211.07 973.95,147.60 1024.33,147.60 1024.33,156.10"/>
<polyline points="1089.10,211.07 1089.10,138.40 1117.89,138.40 1117.89,211.07"/>
<polyline points="999.14,147.60 999.14,117.60 1103.50,117.60 1103.50,138.40"/>
<polyline points="945.16,211.07 945.16,88.10 1051.32,88.10 1051.32,117.60"/>
<polyline points="1204.25,211.07 1204.25,141.20 1233.04,141.20 1233.04,211.07"/>
<polyline points="1175.47,211.07 1175.47,117.60 1218.65,117.60 1218.65,141.20"/>
<polyline points="1290.62,211.07 1290.62,134.30 1319.41,134.30 1319.41,211.07"/>
<polyline points="1261.83,211.07 1261.83,93.00 1305.01,93.00 1305.01,134.30"/>
<polyline points="1197.06,117.60 1197.06,82.40 1283.42,82.40 1283.42,93.00"/>
<polyline points="1146.68,211.07 1146.68,78.10 1240.24,78.10 1240.24,82.40"/>
<polyline points="998.24,88.10 998.24,40.00 1193.46,40.00 1193.46,78.10"/>
<polyline points="780.53,86.20 780.53,33.60 1095.85,33.60 1095.85,40.00"/>
<polyline points="534.93,62.10 534.93,25.70 938.19,25.70 938.19,33.60"/>
<polyline points="247.05,99.10 247.05,3.90 736.56,3.90 736.56,25.70"/>
<polyline points="211.07,269.95 134.10,269.95 134.10,309.20 211.07,309.20"/>
<polyline points="211.07,230.70 99.10,230.70 99.10,289.57 134.10,289.57"/>
<polyline points="211.07,387.70 106.60,387.70 106.60,426.95 211.07,426.95"/>
<polyline points="211.07,348.45 102.70,348.45 102.70,407.33 106.60,407.33"/>
<polyline points="211.07,466.20 184.20,466.20 184.20,505.45 211.07,505.45"/>
<polyline points="211.07,544.71 156.10,544.71 156.10,583.96 211.07,583.96"/>
<polyline points="211.07,623.21 164.70,623.21 164.70,662.46 211.07,662.46"/>
<polyline points="211.07,701.71 126.50,701.71 126.50,740.96 211.07,740.96"/>
<polyline points="164.70,642.83 122.40,642.83 122.40,721.34 126.50,721.34"/>
<polyline points="156.10,564.33 111.70,564.33 111.70,682.09 122.40,682.09"/>
<polyline points="184.20,485.83 101.00,485.83 101.00,623.21 111.70,623.21"/>
<polyline points="102.70,377.89 81.80,377.89 81.80,554.52 101.00,554.52"/>
<polyline points="211.07,780.21 123.60,780.21 123.60,819.46 211.07,819.46"/>
<polyline points="211.07,858.72 106.50,858.72 106.50,897.97 211.07,897.97"/>
<polyline points="123.60,799.84 77.00,799.84 77.00,878.34 106.50,878.34"/>
<polyline points="81.80,466.20 62.10,466.20 62.10,839.09 77.00,839.09"/>
<polyline points="211.07,1054.97 170.50,1054.97 170.50,1094.22 211.07,1094.22"/>
<polyline points="211.07,1015.72 151.20,1015.72 151.20,1074.60 170.50,1074.60"/>
<polyline points="211.07,1133.48 145.50,1133.48 145.50,1172.73 211.07,1172.73"/>
<polyline points="151.20,1045.16 140.50,1045.16 140.50,1153.10 145.50,1153.10"/>
<polyline points="211.07,976.47 104.20,976.47 104.20,1099.13 140.50,1099.13"/>
<polyline points="211.07,937.22 86.20,937.22 86.20,1037.80 104.20,1037.80"/>
<polyline points="211.07,1329.73 165.30,1329.73 165.30,1368.98 211.07,1368.98"/>
<polyline points="211.07,1290.48 156.10,1290.48 156.10,1349.36 165.30,1349.36"/>
<polyline points="211.07,1251.23 147.60,1251.23 147.60,1319.92 156.10,1319.92"/>
<polyline points="211.07,1408.23 138.40,1408.23 138.40,1447.49 211.07,1447.49"/>
<polyline points="147.60,1285.57 117.60,1285.57 117.60,1427.86 138.40,1427.86"/>
<polyline points="211.07,1211.98 88.10,1211.98 88.10,1356.72 117.60,1356.72"/>
<polyline points="211.07,1565.24 141.20,1565.24 141.20,1604.49 211.07,1604.49"/>
<polyline points="211.07,1525.99 117.60,1525.99 117.60,1584.86 141.20,1584.86"/>
<polyline points="211.07,1682.99 134.30,1682.99 134.30,1722.24 211.07,1722.24"/>
<polyline points="211.07,1643.74 93.00,1643.74 93.00,1702.62 134.30,1702.62"/>
<polyline points="117.60,1555.43 82.40,1555.43 82.40,1673.18 93.00,1673.18"/>
<polyline points="211.07,1486.74 78.10,1486.74 78.10,1614.30 82.40,1614.30"/>
<polyline points="88.10,1284.35 40.00,1284.35 40.00,1550.52 78.10,1550.52"/>
<polyline points="86.20,987.51 33.60,987.51 33.60,1417.43 40.00,1417.43"/>
<polyline points="62.10,652.65 25.70,652.65 25.70,1202.47 33.60,1202.47"/>
<polyline points="99.10,260.13 3.90,260.13 3.90,927.56 25.70,927.56"/>
</g>
<g class="rl">
<text transform="translate(1345.0,244.50) scale(1,1.04)" dy="0 0 0 -2.7 2.7 0 -2.7 2.7 0 0 0 0 0 0 0 0 0 -2.7 2.7 0 0 0 0 0 0 0 0">cis_11_Eicosenoic_acid:0.62</text>
<path transform="translate(1345.0,244.50) scale(1,1.04)" d="M72.35 -4.65H80.03V1.60H72.35ZM84.02 -4.65H91.50V1.60H84.02ZM94.34 -4.65H102.02V1.60H94.34ZM106.02 -4.65H113.49V1.60H106.02Z" fill="#fff"/>
<text transform="translate(1345.0,283.75) scale(1,1.04)" dy="0 0 0 0 0 0 0 -2.7 2.7 0 0 0 0 0 0 0">Behenic_acid:0.9</text>
<text transform="translate(1345.0,323.00) scale(1,1.04)" dy="0 0 0 0 0 0 -2.7 2.7 0 0 0 0 0 0 0 0">Erucic_acid:0.98</text>
<text transform="translate(1345.0,362.25) scale(1,1.04)" dy="0 0 0 0 0 0 0 0 0 0 0 0 0 -2.7 2.7 0 0 0">Heptadecanoic_acid</text>
<text transform="translate(1345.0,401.50) scale(1,1.04)" dy="0 0 0 0 -2.7 2.7 0 0 0 0 0 -2.7 2.7 0 0 0">leaf_number_Hmax</text>
<text transform="translate(1345.0,440.75) scale(1,1.04)" dy="0 0 0 0 -2.7 2.7 0 0 0 0 0 -2.7 2.7">lobe_number_k</text>
<text transform="translate(1345.0,480.00) scale(1,1.04)" dy="0 0 0 0 0 0 -2.7 2.7 0 0 0">height_Hmax</text>
<text transform="translate(1345.0,519.25) scale(1,1.04)" dy="0 0 0 0 0 -2.7 2.7 0 0 0 0 0 -2.7 2.7 0 0 0 -2.7 2.7 0 -2.7 2.7 0 0 0 0 0 0">plant_height_2016_05_13:0.38</text>
<path transform="translate(1345.0,519.25) scale(1,1.04)" d="M283.52 -4.65H291.20V1.60H283.52ZM295.19 -4.65H302.67V1.60H295.19ZM415.49 -4.65H423.17V1.60H415.49ZM427.17 -4.65H434.64V1.60H427.17Z" fill="#fff"/>
<text transform="translate(1345.0,558.51) scale(1,1.04)" dy="0 0 0 0 -2.7 2.7 0 0 0 0 0 -2.7 2.7 0 0 0">lobe_number_Hmax</text>
<text transform="translate(1345.0,597.76) scale(1,1.04)" dy="0 0 0 0 -2.7 2.7 0 0 0 0 0 -2.7 2.7 0 0 0 -2.7 2.7 0 -2.7 2.7 0 0 0 0 0 0">lobe_number_2016_03_21:0.42</text>
<path transform="translate(1345.0,597.76) scale(1,1.04)" d="M298.87 -4.65H306.55V1.60H298.87ZM310.55 -4.65H318.02V1.60H310.55ZM452.84 -4.65H460.52V1.60H452.84ZM464.52 -4.65H471.99V1.60H464.52Z" fill="#fff"/>
<text transform="translate(1345.0,637.01) scale(1,1.04)" dy="0 0 0 0 0 -2.7 2.7 0 0 0 0 0 -2.7 2.7 0 0 0 -2.7 2.7 0 -2.7 2.7 0 0 0 0 0 0">plant_weight_2016_05_13:0.13</text>
<path transform="translate(1345.0,637.01) scale(1,1.04)" d="M290.08 -4.65H297.77V1.60H290.08ZM301.76 -4.65H309.23V1.60H301.76ZM422.06 -4.65H429.74V1.60H422.06ZM433.74 -4.65H441.21V1.60H433.74ZM510.02 -4.65H517.70V1.60H510.02ZM521.70 -4.65H529.17V1.60H521.70Z" fill="#fff"/>
<text transform="translate(1345.0,676.26) scale(1,1.04)" dy="0 0 0 0 -2.7 2.7 0 0 0 0 0 -2.7 2.7 0 0 0 -2.7 2.7 0 -2.7 2.7 0 0 0 0 0 0">root_weight_2016_05_13:0.56</text>
<path transform="translate(1345.0,676.26) scale(1,1.04)" d="M272.47 -4.65H280.15V1.60H272.47ZM284.15 -4.65H291.62V1.60H284.15ZM404.45 -4.65H412.13V1.60H404.45ZM416.12 -4.65H423.60V1.60H416.12Z" fill="#fff"/>
<text transform="translate(1345.0,715.51) scale(1,1.04)" dy="0 0 0 0 0 -2.7 2.7 0 0 0">width_Hmax</text>
<text transform="translate(1345.0,754.76) scale(1,1.04)" dy="0 0 0 0 0 -2.7 2.7">width_k</text>
<text transform="translate(1345.0,794.01) scale(1,1.04)" dy="0 0 0 0 0 -2.7 2.7 0 0 -2.7 2.7 0 0 0 0 0 0 0 0 0">Crude_oil_contents:0</text>
<text transform="translate(1345.0,833.26) scale(1,1.04)" dy="0 0 0 0 0 0 0 0 0 -2.7 2.7 0 0 0 0 0 0 0 0">Linolenic_acid:0.93</text>
<text transform="translate(1345.0,872.52) scale(1,1.04)" dy="0 0 0 0 0 0 -2.7 2.7">height_k</text>
<text transform="translate(1345.0,911.77) scale(1,1.04)" dy="0 0 0 0 0 0 -2.7 2.7 0 -2.7 2.7 0 0 -2.7 2.7 0 0 0 0 0 0 0 -2.7 2.7 0 0 0 0">Weight_of_one_thousand_seeds</text>
<text transform="translate(1345.0,951.02) scale(1,1.04)" dy="0 0 0 0 0 0 0 0 0 -2.7 2.7 0 0 0 0 0 0 0 0">Arachidic_acid:0.81</text>
<path transform="translate(1345.0,951.02) scale(1,1.04)" d="M325.19 -4.65H332.87V1.60H325.19ZM336.87 -4.65H344.34V1.60H336.87Z" fill="#fff"/>
<text transform="translate(1345.0,990.27) scale(1,1.04)" dy="0 0 0 0 0 0 0 0 0 0 0 -2.7 2.7 0 0 0 0 0 0 0 0">Palmitoleic_acid:0.86</text>
<text transform="translate(1345.0,1029.52) scale(1,1.04)" dy="0 0 0 0 0 0 0 0 -2.7 2.7 0 0 0 0 0 0 0 0">vaccenic_acid:0.99</text>
<text transform="translate(1345.0,1068.77) scale(1,1.04)" dy="0 0 0 0 0 0 0 -2.7 2.7 0 0 0 0 0 0 0 0">Stearic_acid:0.96</text>
<text transform="translate(1345.0,1108.02) scale(1,1.04)" dy="0 0 0 0 0 -2.7 2.7 0 0 0 0 0 0 0 0">Oleic_acid:0.97</text>
<text transform="translate(1345.0,1147.28) scale(1,1.04)" dy="0 0 0 0 0 0 0 0 -2.7 2.7 0 0 0 0 0 0 0 0">Palmitic_acid:0.92</text>
<text transform="translate(1345.0,1186.53) scale(1,1.04)" dy="0 0 0 0 0 0 0 0 -2.7 2.7 0 0 0 0 0 0 0 0">Linoleic_acid:0.95</text>
<text transform="translate(1345.0,1225.78) scale(1,1.04)" dy="0 0 0 0 -2.7 2.7 0 0 0 0 0 -2.7 2.7">leaf_number_k</text>
<text transform="translate(1345.0,1265.03) scale(1,1.04)" dy="0 0 0 0 0 0 -2.7 2.7">height_I</text>
<text transform="translate(1345.0,1304.28) scale(1,1.04)" dy="0 0 0 0 -2.7 2.7 0 -2.7 2.7 0 0 0 0 0 0 0">days_to_bolt:0.8</text>
<text transform="translate(1345.0,1343.53) scale(1,1.04)" dy="0 0 0 0 -2.7 2.7 0 0 0 0 0 -2.7 2.7">lobe_number_I</text>
<text transform="translate(1345.0,1382.78) scale(1,1.04)" dy="0 0 0 0 -2.7 2.7 0 -2.7 2.7 0 0 0 0 0 0 0 0 0">days_to_flower:0.6</text>
<text transform="translate(1345.0,1422.03) scale(1,1.04)" dy="0 0 0 0 -2.7 2.7 0 0 0 0 0 -2.7 2.7">leaf_number_I</text>
<text transform="translate(1345.0,1461.29) scale(1,1.04)" dy="0 0 0 0 -2.7 2.7 0 0 0 0 0 -2.7 2.7 0 0 0 -2.7 2.7 0 -2.7 2.7 0 0 0 0 0 0">leaf_number_2016_03_21:0.59</text>
<path transform="translate(1345.0,1461.29) scale(1,1.04)" d="M287.86 -4.65H295.54V1.60H287.86ZM299.54 -4.65H307.01V1.60H299.54ZM441.83 -4.65H449.52V1.60H441.83ZM453.51 -4.65H460.98V1.60H453.51Z" fill="#fff"/>
<text transform="translate(1345.0,1500.54) scale(1,1.04)" dy="0 0 0 0 0 0 0 -2.7 2.7 0 -2.7 2.7 0 0 0 0 0 0 0 0 0 0 0 0 0">bolting_to_flowering:0.38</text>
<text transform="translate(1345.0,1539.79) scale(1,1.04)" dy="0 0 0 0 0 0 -2.7 2.7 0 -2.7 2.7 0 0 0 0 0 -2.7 2.7 0 0 0 0">height_to_branch_5:0.4</text>
<text transform="translate(1345.0,1579.04) scale(1,1.04)" dy="0 0 0 0 0 0 -2.7 2.7 0 -2.7 2.7 0 0 0 0 0 -2.7 2.7 0 0 0 0 0 0">height_to_branch_10:0.52</text>
<path transform="translate(1345.0,1579.04) scale(1,1.04)" d="M329.67 -4.65H337.35V1.60H329.67ZM341.35 -4.65H348.82V1.60H341.35Z" fill="#fff"/>
<text transform="translate(1345.0,1618.29) scale(1,1.04)" dy="0 0 0 0 0 0 -2.7 2.7 0 -2.7 2.7 0 0 0 0 0 -2.7 2.7 0 0 0 0 0 0">height_to_branch_15:0.79</text>
<path transform="translate(1345.0,1618.29) scale(1,1.04)" d="M329.67 -4.65H337.35V1.60H329.67ZM341.35 -4.65H348.82V1.60H341.35Z" fill="#fff"/>
<text transform="translate(1345.0,1657.54) scale(1,1.04)" dy="0 0 0 0 0 -2.7 2.7 0 0 0 0">width_delta</text>
<text transform="translate(1345.0,1696.79) scale(1,1.04)" dy="0 0 0 0 0 0 0 0 -2.7 2.7 0 0 0">Caprylic_acid</text>
<text transform="translate(1345.0,1736.04) scale(1,1.04)" dy="0 0 0 0 0 0 0 0 -2.7 2.7 0 0 0 0 0 0 0 0">Myristic_acid:0.45</text>
</g>
<g class="cl">
<text transform="translate(213.96,1753.7) rotate(90) scale(1,1.04)" dy="0 0 0 -2.15 2.15 0 -2.15 2.15 0 0 0 0 0 0 0 0 0 -2.15 2.15 0 0 0 0 0 0 0 0">cis_11_Eicosenoic_acid:0.62</text>
<path transform="translate(213.96,1753.7) rotate(90) scale(1,1.04)" d="M57.51 -4.06H63.79V1.60H57.51ZM67.08 -4.06H73.21V1.60H67.08ZM75.06 -4.06H81.34V1.60H75.06ZM84.62 -4.06H90.76V1.60H84.62Z" fill="#fff"/>
<text transform="translate(242.75,1753.7) rotate(90) scale(1,1.04)" dy="0 0 0 0 0 0 0 -2.15 2.15 0 0 0 0 0 0 0">Behenic_acid:0.9</text>
<text transform="translate(271.54,1753.7) rotate(90) scale(1,1.04)" dy="0 0 0 0 0 0 -2.15 2.15 0 0 0 0 0 0 0 0">Erucic_acid:0.98</text>
<text transform="translate(300.33,1753.7) rotate(90) scale(1,1.04)" dy="0 0 0 0 0 0 0 0 0 0 0 0 0 -2.15 2.15 0 0 0">Heptadecanoic_acid</text>
<text transform="translate(329.12,1753.7) rotate(90) scale(1,1.04)" dy="0 0 0 0 -2.15 2.15 0 0 0 0 0 -2.15 2.15 0 0 0">leaf_number_Hmax</text>
<text transform="translate(357.90,1753.7) rotate(90) scale(1,1.04)" dy="0 0 0 0 -2.15 2.15 0 0 0 0 0 -2.15 2.15">lobe_number_k</text>
<text transform="translate(386.69,1753.7) rotate(90) scale(1,1.04)" dy="0 0 0 0 0 0 -2.15 2.15 0 0 0">height_Hmax</text>
<text transform="translate(415.48,1753.7) rotate(90) scale(1,1.04)" dy="0 0 0 0 0 -2.15 2.15 0 0 0 0 0 -2.15 2.15 0 0 0 -2.15 2.15 0 -2.15 2.15 0 0 0 0 0 0">plant_height_2016_05_13:0.38</text>
<path transform="translate(415.48,1753.7) rotate(90) scale(1,1.04)" d="M225.97 -4.06H232.25V1.60H225.97ZM235.53 -4.06H241.67V1.60H235.53ZM331.25 -4.06H337.53V1.60H331.25ZM340.81 -4.06H346.95V1.60H340.81Z" fill="#fff"/>
<text transform="translate(444.27,1753.7) rotate(90) scale(1,1.04)" dy="0 0 0 0 -2.15 2.15 0 0 0 0 0 -2.15 2.15 0 0 0">lobe_number_Hmax</text>
<text transform="translate(473.06,1753.7) rotate(90) scale(1,1.04)" dy="0 0 0 0 -2.15 2.15 0 0 0 0 0 -2.15 2.15 0 0 0 -2.15 2.15 0 -2.15 2.15 0 0 0 0 0 0">lobe_number_2016_03_21:0.42</text>
<path transform="translate(473.06,1753.7) rotate(90) scale(1,1.04)" d="M238.21 -4.06H244.49V1.60H238.21ZM247.78 -4.06H253.92V1.60H247.78ZM361.04 -4.06H367.32V1.60H361.04ZM370.61 -4.06H376.74V1.60H370.61Z" fill="#fff"/>
<text transform="translate(501.84,1753.7) rotate(90) scale(1,1.04)" dy="0 0 0 0 0 -2.15 2.15 0 0 0 0 0 -2.15 2.15 0 0 0 -2.15 2.15 0 -2.15 2.15 0 0 0 0 0 0">plant_weight_2016_05_13:0.13</text>
<path transform="translate(501.84,1753.7) rotate(90) scale(1,1.04)" d="M231.20 -4.06H237.48V1.60H231.20ZM240.77 -4.06H246.91V1.60H240.77ZM336.48 -4.06H342.76V1.60H336.48ZM346.05 -4.06H352.19V1.60H346.05ZM406.65 -4.06H412.93V1.60H406.65ZM416.22 -4.06H422.36V1.60H416.22Z" fill="#fff"/>
<text transform="translate(530.63,1753.7) rotate(90) scale(1,1.04)" dy="0 0 0 0 -2.15 2.15 0 0 0 0 0 -2.15 2.15 0 0 0 -2.15 2.15 0 -2.15 2.15 0 0 0 0 0 0">root_weight_2016_05_13:0.56</text>
<path transform="translate(530.63,1753.7) rotate(90) scale(1,1.04)" d="M217.15 -4.06H223.43V1.60H217.15ZM226.72 -4.06H232.86V1.60H226.72ZM322.43 -4.06H328.71V1.60H322.43ZM332.00 -4.06H338.14V1.60H332.00Z" fill="#fff"/>
<text transform="translate(559.42,1753.7) rotate(90) scale(1,1.04)" dy="0 0 0 0 0 -2.15 2.15 0 0 0">width_Hmax</text>
<text transform="translate(588.21,1753.7) rotate(90) scale(1,1.04)" dy="0 0 0 0 0 -2.15 2.15">width_k</text>
<text transform="translate(617.00,1753.7) rotate(90) scale(1,1.04)" dy="0 0 0 0 0 -2.15 2.15 0 0 -2.15 2.15 0 0 0 0 0 0 0 0 0">Crude_oil_contents:0</text>
<text transform="translate(645.78,1753.7) rotate(90) scale(1,1.04)" dy="0 0 0 0 0 0 0 0 0 -2.15 2.15 0 0 0 0 0 0 0 0">Linolenic_acid:0.93</text>
<text transform="translate(674.57,1753.7) rotate(90) scale(1,1.04)" dy="0 0 0 0 0 0 -2.15 2.15">height_k</text>
<text transform="translate(703.36,1753.7) rotate(90) scale(1,1.04)" dy="0 0 0 0 0 0 -2.15 2.15 0 -2.15 2.15 0 0 -2.15 2.15 0 0 0 0 0 0 0 -2.15 2.15 0 0 0 0">Weight_of_one_thousand_seeds</text>
<text transform="translate(732.15,1753.7) rotate(90) scale(1,1.04)" dy="0 0 0 0 0 0 0 0 0 -2.15 2.15 0 0 0 0 0 0 0 0">Arachidic_acid:0.81</text>
<path transform="translate(732.15,1753.7) rotate(90) scale(1,1.04)" d="M259.21 -4.06H265.49V1.60H259.21ZM268.78 -4.06H274.91V1.60H268.78Z" fill="#fff"/>
<text transform="translate(760.93,1753.7) rotate(90) scale(1,1.04)" dy="0 0 0 0 0 0 0 0 0 0 0 -2.15 2.15 0 0 0 0 0 0 0 0">Palmitoliec_acid:0.86</text>
<text transform="translate(789.72,1753.7) rotate(90) scale(1,1.04)" dy="0 0 0 0 0 0 0 0 -2.15 2.15 0 0 0 0 0 0 0 0">vaccenic_acid:0.99</text>
<text transform="translate(818.51,1753.7) rotate(90) scale(1,1.04)" dy="0 0 0 0 0 0 0 -2.15 2.15 0 0 0 0 0 0 0 0">Stearic_acid:0.96</text>
<text transform="translate(847.30,1753.7) rotate(90) scale(1,1.04)" dy="0 0 0 0 0 -2.15 2.15 0 0 0 0 0 0 0 0">Oleic_acid:0.97</text>
<text transform="translate(876.09,1753.7) rotate(90) scale(1,1.04)" dy="0 0 0 0 0 0 0 0 -2.15 2.15 0 0 0 0 0 0 0 0">Palmitic_acid:0.92</text>
<text transform="translate(904.87,1753.7) rotate(90) scale(1,1.04)" dy="0 0 0 0 0 0 0 0 -2.15 2.15 0 0 0 0 0 0 0 0">Linoleic_acid:0.95</text>
<text transform="translate(933.66,1753.7) rotate(90) scale(1,1.04)" dy="0 0 0 0 -2.15 2.15 0 0 0 0 0 -2.15 2.15">leaf_number_k</text>
<text transform="translate(962.45,1753.7) rotate(90) scale(1,1.04)" dy="0 0 0 0 0 0 -2.15 2.15">height_I</text>
<text transform="translate(991.24,1753.7) rotate(90) scale(1,1.04)" dy="0 0 0 0 -2.15 2.15 0 -2.15 2.15 0 0 0 0 0 0 0">days_to_bolt:0.8</text>
<text transform="translate(1020.03,1753.7) rotate(90) scale(1,1.04)" dy="0 0 0 0 -2.15 2.15 0 0 0 0 0 -2.15 2.15">lobe_number_I</text>
<text transform="translate(1048.81,1753.7) rotate(90) scale(1,1.04)" dy="0 0 0 0 -2.15 2.15 0 -2.15 2.15 0 0 0 0 0 0 0 0 0">days_to_flower:0.6</text>
<text transform="translate(1077.60,1753.7) rotate(90) scale(1,1.04)" dy="0 0 0 0 -2.15 2.15 0 0 0 0 0 -2.15 2.15">leaf_number_I</text>
<text transform="translate(1106.39,1753.7) rotate(90) scale(1,1.04)" dy="0 0 0 0 -2.15 2.15 0 0 0 0 0 -2.15 2.15 0 0 0 -2.15 2.15 0 -2.15 2.15 0 0 0 0 0 0">leaf_number_2016_03_21:0.59</text>
<path transform="translate(1106.39,1753.7) rotate(90) scale(1,1.04)" d="M229.43 -4.06H235.71V1.60H229.43ZM239.00 -4.06H245.13V1.60H239.00ZM352.26 -4.06H358.54V1.60H352.26ZM361.83 -4.06H367.96V1.60H361.83Z" fill="#fff"/>
<text transform="translate(1135.18,1753.7) rotate(90) scale(1,1.04)" dy="0 0 0 0 0 0 0 -2.15 2.15 0 -2.15 2.15 0 0 0 0 0 0 0 0 0 0 0 0 0">bolting_to_flowering:0.38</text>
<text transform="translate(1163.97,1753.7) rotate(90) scale(1,1.04)" dy="0 0 0 0 0 0 -2.15 2.15 0 -2.15 2.15 0 0 0 0 0 -2.15 2.15 0 0 0 0">height_to_branch_5:0.4</text>
<text transform="translate(1192.75,1753.7) rotate(90) scale(1,1.04)" dy="0 0 0 0 0 0 -2.15 2.15 0 -2.15 2.15 0 0 0 0 0 -2.15 2.15 0 0 0 0 0 0">height_to_branch_10:0.52</text>
<path transform="translate(1192.75,1753.7) rotate(90) scale(1,1.04)" d="M262.78 -4.06H269.06V1.60H262.78ZM272.35 -4.06H278.49V1.60H272.35Z" fill="#fff"/>
<text transform="translate(1221.54,1753.7) rotate(90) scale(1,1.04)" dy="0 0 0 0 0 0 -2.15 2.15 0 -2.15 2.15 0 0 0 0 0 -2.15 2.15 0 0 0 0 0 0">height_to_branch_15:0.79</text>
<path transform="translate(1221.54,1753.7) rotate(90) scale(1,1.04)" d="M262.78 -4.06H269.06V1.60H262.78ZM272.35 -4.06H278.49V1.60H272.35Z" fill="#fff"/>
<text transform="translate(1250.33,1753.7) rotate(90) scale(1,1.04)" dy="0 0 0 0 0 -2.15 2.15 0 0 0 0">width_delta</text>
<text transform="translate(1279.12,1753.7) rotate(90) scale(1,1.04)" dy="0 0 0 0 0 0 0 0 -2.15 2.15 0 0 0">Caprylic_acid</text>
<text transform="translate(1307.91,1753.7) rotate(90) scale(1,1.04)" dy="0 0 0 0 0 0 0 0 -2.15 2.15 0 0 0 0 0 0 0 0">Myristic_acid:0.45</text>
</g>
<g>
<rect x="1950.0" y="798.41" width="39.80" height="5.651" fill="#4575b4"/>
<rect x="1950.0" y="792.48" width="39.80" height="5.651" fill="#4a79b6"/>
<rect x="1950.0" y="786.55" width="39.80" height="5.651" fill="#4e7eb9"/>
<rect x="1950.0" y="780.61" width="39.80" height="5.651" fill="#5382bb"/>
<rect x="1950.0" y="774.68" width="39.80" height="5.651" fill="#5787bd"/>
<rect x="1950.0" y="768.75" width="39.80" height="5.651" fill="#5c8bc0"/>
<rect x="1950.0" y="762.82" width="39.80" height="5.651" fill="#6190c2"/>
<rect x="1950.0" y="756.89" width="39.80" height="5.651" fill="#6594c5"/>
<rect x="1950.0" y="750.96" width="39.80" height="5.651" fill="#6a99c7"/>
<rect x="1950.0" y="745.03" width="39.80" height="5.651" fill="#6e9dc9"/>
<rect x="1950.0" y="739.10" width="39.80" height="5.651" fill="#73a2cc"/>
<rect x="1950.0" y="733.16" width="39.80" height="5.651" fill="#78a6ce"/>
<rect x="1950.0" y="727.23" width="39.80" height="5.651" fill="#7cabd0"/>
<rect x="1950.0" y="721.30" width="39.80" height="5.651" fill="#81afd3"/>
<rect x="1950.0" y="715.37" width="39.80" height="5.651" fill="#85b4d5"/>
<rect x="1950.0" y="709.44" width="39.80" height="5.651" fill="#8ab8d7"/>
<rect x="1950.0" y="703.51" width="39.80" height="5.651" fill="#8fbdda"/>
<rect x="1950.0" y="697.58" width="39.80" height="5.651" fill="#93c1dc"/>
<rect x="1950.0" y="691.65" width="39.80" height="5.651" fill="#98c4de"/>
<rect x="1950.0" y="685.71" width="39.80" height="5.651" fill="#9dc7df"/>
<rect x="1950.0" y="679.78" width="39.80" height="5.651" fill="#a2cae1"/>
<rect x="1950.0" y="673.85" width="39.80" height="5.651" fill="#a7cde3"/>
<rect x="1950.0" y="667.92" width="39.80" height="5.651" fill="#abd0e5"/>
<rect x="1950.0" y="661.99" width="39.80" height="5.651" fill="#b0d3e6"/>
<rect x="1950.0" y="656.06" width="39.80" height="5.651" fill="#b5d7e8"/>
<rect x="1950.0" y="650.13" width="39.80" height="5.651" fill="#badaea"/>
<rect x="1950.0" y="644.19" width="39.80" height="5.651" fill="#beddec"/>
<rect x="1950.0" y="638.26" width="39.80" height="5.651" fill="#c3e0ed"/>
<rect x="1950.0" y="632.33" width="39.80" height="5.651" fill="#c8e3ef"/>
<rect x="1950.0" y="626.40" width="39.80" height="5.651" fill="#cde6f1"/>
<rect x="1950.0" y="620.47" width="39.80" height="5.651" fill="#d2eaf3"/>
<rect x="1950.0" y="614.54" width="39.80" height="5.651" fill="#d6edf4"/>
<rect x="1950.0" y="608.61" width="39.80" height="5.651" fill="#dbf0f6"/>
<rect x="1950.0" y="602.68" width="39.80" height="5.651" fill="#e0f3f8"/>
<rect x="1950.0" y="596.74" width="39.80" height="5.651" fill="#e2f4f5"/>
<rect x="1950.0" y="590.81" width="39.80" height="5.651" fill="#e4f4f1"/>
<rect x="1950.0" y="584.88" width="39.80" height="5.651" fill="#e6f5ee"/>
<rect x="1950.0" y="578.95" width="39.80" height="5.651" fill="#e8f6ea"/>
<rect x="1950.0" y="573.02" width="39.80" height="5.651" fill="#e9f7e7"/>
<rect x="1950.0" y="567.09" width="39.80" height="5.651" fill="#ebf7e3"/>
<rect x="1950.0" y="561.16" width="39.80" height="5.651" fill="#edf8e0"/>
<rect x="1950.0" y="555.23" width="39.80" height="5.651" fill="#eff9dc"/>
<rect x="1950.0" y="549.29" width="39.80" height="5.651" fill="#f1fad9"/>
<rect x="1950.0" y="543.36" width="39.80" height="5.651" fill="#f3fad5"/>
<rect x="1950.0" y="537.43" width="39.80" height="5.651" fill="#f5fbd2"/>
<rect x="1950.0" y="531.50" width="39.80" height="5.651" fill="#f7fccf"/>
<rect x="1950.0" y="525.57" width="39.80" height="5.651" fill="#f8fccb"/>
<rect x="1950.0" y="519.64" width="39.80" height="5.651" fill="#fafdc8"/>
<rect x="1950.0" y="513.71" width="39.80" height="5.651" fill="#fcfec4"/>
<rect x="1950.0" y="507.77" width="39.80" height="5.651" fill="#feffc1"/>
<rect x="1950.0" y="501.84" width="39.80" height="5.651" fill="#fffebe"/>
<rect x="1950.0" y="495.91" width="39.80" height="5.651" fill="#fffcbb"/>
<rect x="1950.0" y="489.98" width="39.80" height="5.651" fill="#fffab8"/>
<rect x="1950.0" y="484.05" width="39.80" height="5.651" fill="#fff8b5"/>
<rect x="1950.0" y="478.12" width="39.80" height="5.651" fill="#fff7b2"/>
<rect x="1950.0" y="472.19" width="39.80" height="5.651" fill="#fff5af"/>
<rect x="1950.0" y="466.26" width="39.80" height="5.651" fill="#fff3ac"/>
<rect x="1950.0" y="460.32" width="39.80" height="5.651" fill="#fff1aa"/>
<rect x="1950.0" y="454.39" width="39.80" height="5.651" fill="#feefa7"/>
<rect x="1950.0" y="448.46" width="39.80" height="5.651" fill="#feeda4"/>
<rect x="1950.0" y="442.53" width="39.80" height="5.651" fill="#feeba1"/>
<rect x="1950.0" y="436.60" width="39.80" height="5.651" fill="#fee99e"/>
<rect x="1950.0" y="430.67" width="39.80" height="5.651" fill="#fee89b"/>
<rect x="1950.0" y="424.74" width="39.80" height="5.651" fill="#fee699"/>
<rect x="1950.0" y="418.81" width="39.80" height="5.651" fill="#fee496"/>
<rect x="1950.0" y="412.87" width="39.80" height="5.651" fill="#fee293"/>
<rect x="1950.0" y="406.94" width="39.80" height="5.651" fill="#fee090"/>
<rect x="1950.0" y="401.01" width="39.80" height="5.651" fill="#fedb8d"/>
<rect x="1950.0" y="395.08" width="39.80" height="5.651" fill="#fed689"/>
<rect x="1950.0" y="389.15" width="39.80" height="5.651" fill="#fed186"/>
<rect x="1950.0" y="383.22" width="39.80" height="5.651" fill="#fecc83"/>
<rect x="1950.0" y="377.29" width="39.80" height="5.651" fill="#fdc77f"/>
<rect x="1950.0" y="371.36" width="39.80" height="5.651" fill="#fdc27c"/>
<rect x="1950.0" y="365.42" width="39.80" height="5.651" fill="#fdbd79"/>
<rect x="1950.0" y="359.49" width="39.80" height="5.651" fill="#fdb875"/>
<rect x="1950.0" y="353.56" width="39.80" height="5.651" fill="#fdb372"/>
<rect x="1950.0" y="347.63" width="39.80" height="5.651" fill="#fdae6f"/>
<rect x="1950.0" y="341.70" width="39.80" height="5.651" fill="#fda96b"/>
<rect x="1950.0" y="335.77" width="39.80" height="5.651" fill="#fda468"/>
<rect x="1950.0" y="329.84" width="39.80" height="5.651" fill="#fc9f65"/>
<rect x="1950.0" y="323.90" width="39.80" height="5.651" fill="#fc9a61"/>
<rect x="1950.0" y="317.97" width="39.80" height="5.651" fill="#fc955e"/>
<rect x="1950.0" y="312.04" width="39.80" height="5.651" fill="#fc905b"/>
<rect x="1950.0" y="306.11" width="39.80" height="5.651" fill="#fb8a57"/>
<rect x="1950.0" y="300.18" width="39.80" height="5.651" fill="#f98554"/>
<rect x="1950.0" y="294.25" width="39.80" height="5.651" fill="#f67f51"/>
<rect x="1950.0" y="288.32" width="39.80" height="5.651" fill="#f4794e"/>
<rect x="1950.0" y="282.39" width="39.80" height="5.651" fill="#f2744b"/>
<rect x="1950.0" y="276.45" width="39.80" height="5.651" fill="#f06e48"/>
<rect x="1950.0" y="270.52" width="39.80" height="5.651" fill="#ed6845"/>
<rect x="1950.0" y="264.59" width="39.80" height="5.651" fill="#eb6342"/>
<rect x="1950.0" y="258.66" width="39.80" height="5.651" fill="#e95d3f"/>
<rect x="1950.0" y="252.73" width="39.80" height="5.651" fill="#e7573c"/>
<rect x="1950.0" y="246.80" width="39.80" height="5.651" fill="#e45239"/>
<rect x="1950.0" y="240.87" width="39.80" height="5.651" fill="#e24c36"/>
<rect x="1950.0" y="234.94" width="39.80" height="5.651" fill="#e04733"/>
<rect x="1950.0" y="229.00" width="39.80" height="5.651" fill="#de4130"/>
<rect x="1950.0" y="223.07" width="39.80" height="5.651" fill="#db3b2d"/>
<rect x="1950.0" y="217.14" width="39.80" height="5.651" fill="#d9362a"/>
<rect x="1950.0" y="211.21" width="39.80" height="5.651" fill="#d73027"/>
</g>
<g class="lg">
<text transform="translate(2005.30,225.00) scale(1,1.04)">1</text>
<rect x="2005" y="220.6" width="10.0" height="6" fill="#fff"/><rect x="2018.82" y="220.6" width="8" height="6" fill="#fff"/>
<text transform="translate(2004.60,378.00) scale(1,1.04)">0.5</text>
<text transform="translate(2004.60,530.40) scale(1,1.04)">0</text>
<text transform="translate(2004.60,682.20) scale(1,1.04)">−0.5</text>
</g>
<g class="k">
<text transform="translate(71.0,250.0) scale(1,1.06)">1</text>
<rect x="66" y="244.5" width="14.62" height="7" fill="#fff"/><rect x="86.72" y="244.5" width="8" height="7" fill="#fff"/>
<text transform="translate(46.2,457.0) scale(1,1.06)">2</text>
<text transform="translate(49.7,881.6) scale(1,1.06)">3</text>
<text transform="translate(51.6,975.2) scale(1,1.06)">4</text>
<text transform="translate(54.7,1277.4) scale(1,1.06)">5</text>
<text transform="translate(50.7,1544.6) scale(1,1.06)">6</text>
</g>
</svg></body></html>
